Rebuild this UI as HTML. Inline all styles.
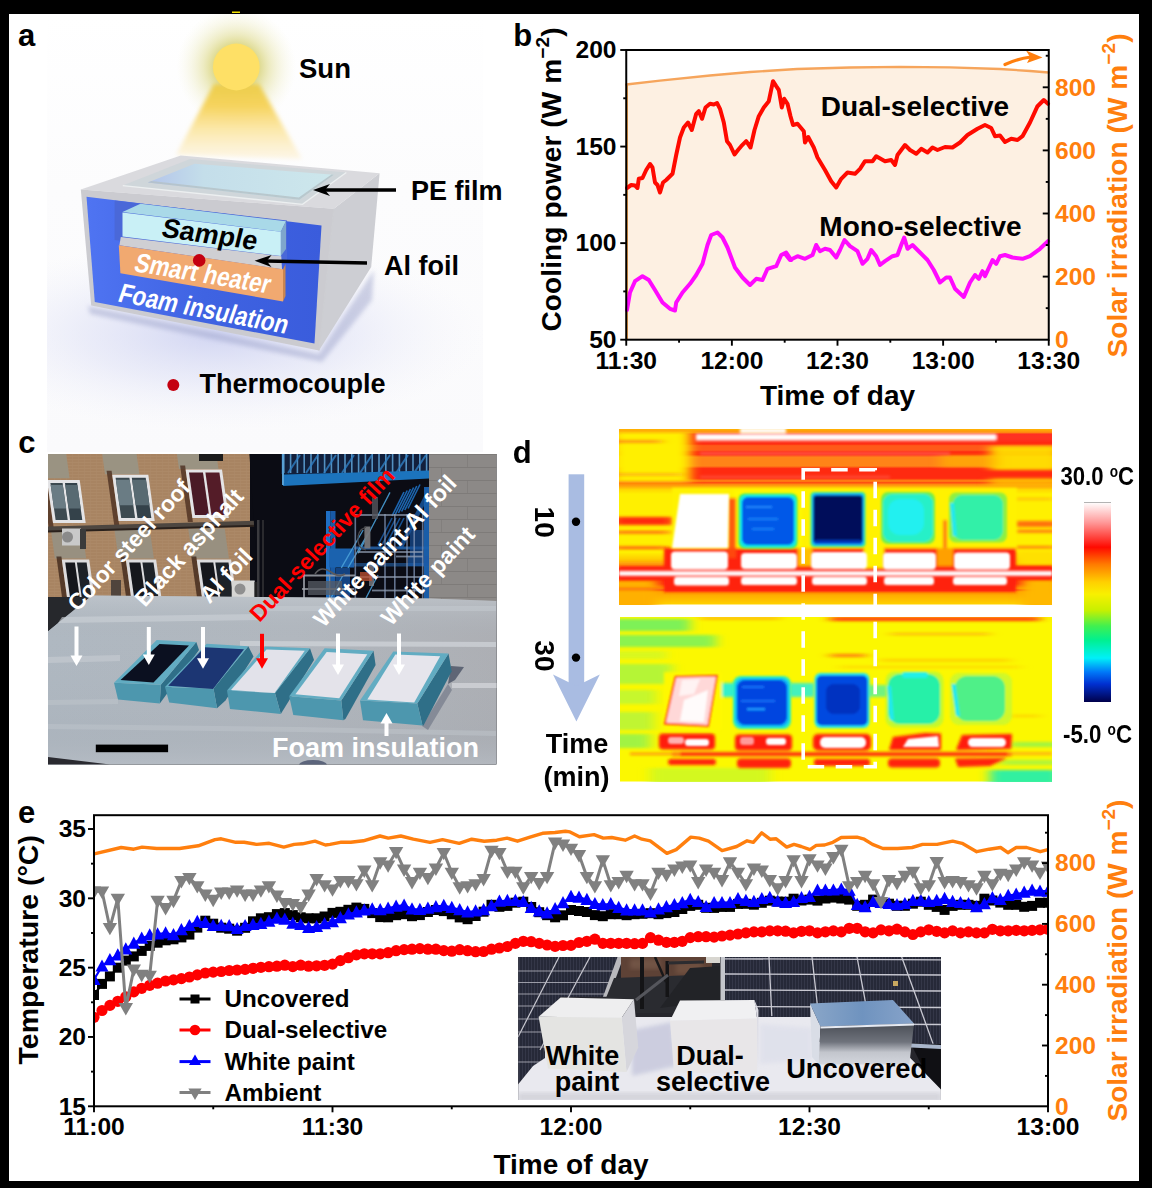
<!DOCTYPE html>
<html><head><meta charset="utf-8"><title>figure</title><style>html,body{margin:0;padding:0;background:#000;overflow:hidden}svg{display:block}text{font-family:"Liberation Sans",sans-serif;font-weight:bold}</style></head><body>
<svg width="1152" height="1188" viewBox="0 0 1152 1188">
<rect x="0" y="0" width="1152" height="1188" fill="#000"/>
<rect x="9" y="14" width="1130" height="1167" fill="#fff"/>
<rect x="232" y="11.5" width="8" height="1.5" fill="#f5e400"/>
<g id="pa">
<defs><linearGradient id="abg" x1="0" y1="0" x2="0" y2="1"><stop offset="0" stop-color="#fff"/><stop offset="0.4" stop-color="#fcfcfd"/><stop offset="1" stop-color="#fafafc"/></linearGradient><clipPath id="aclip"><rect x="47" y="14" width="436" height="438"/></clipPath><radialGradient id="sunglow" cx="0.5" cy="0.5" r="0.5"><stop offset="0.38" stop-color="#dcd88a" stop-opacity="0.95"/><stop offset="0.55" stop-color="#e6e3a8" stop-opacity="0.7"/><stop offset="0.78" stop-color="#efedc8" stop-opacity="0.35"/><stop offset="1" stop-color="#f6f5e2" stop-opacity="0"/></radialGradient><linearGradient id="beam" x1="0" y1="0" x2="0" y2="1"><stop offset="0" stop-color="#eccd4c" stop-opacity="1"/><stop offset="0.3" stop-color="#f6d258" stop-opacity="0.95"/><stop offset="0.6" stop-color="#fbe08c" stop-opacity="0.75"/><stop offset="1" stop-color="#fdf0d0" stop-opacity="0.5"/></linearGradient><linearGradient id="blueg" x1="0" y1="0" x2="1" y2="0"><stop offset="0" stop-color="#4f74f2"/><stop offset="0.5" stop-color="#3f63e2"/><stop offset="1" stop-color="#3a5cdc"/></linearGradient><linearGradient id="filmg" x1="0" y1="0" x2="1" y2="0"><stop offset="0" stop-color="#b3c4ea"/><stop offset="0.3" stop-color="#c4deea"/><stop offset="1" stop-color="#cde7ec"/></linearGradient><radialGradient id="floorg" cx="0.5" cy="0.5" r="0.5"><stop offset="0" stop-color="#c4c9ef" stop-opacity="0.75"/><stop offset="0.5" stop-color="#dcdff5" stop-opacity="0.5"/><stop offset="1" stop-color="#f0f1fa" stop-opacity="0"/></radialGradient><filter id="bl2" x="-20%" y="-20%" width="140%" height="140%"><feGaussianBlur stdDeviation="2"/></filter><filter id="bl1" x="-20%" y="-20%" width="140%" height="140%"><feGaussianBlur stdDeviation="0.7"/></filter><filter id="bl4" x="-30%" y="-30%" width="160%" height="160%"><feGaussianBlur stdDeviation="5"/></filter></defs>
<rect x="47" y="14" width="436" height="438" fill="url(#abg)" />
<g clip-path="url(#aclip)"><ellipse cx="215" cy="335" rx="270" ry="95" fill="url(#floorg)"/></g>
<g clip-path="url(#aclip)"><circle cx="236.3" cy="67" r="60" fill="url(#sunglow)"/></g>
<polygon points="214.0,84.0 259.0,84.0 302.0,159.0 176.0,155.0" fill="url(#beam)" filter="url(#bl2)"/>
<circle cx="236.3" cy="67" r="23.4" fill="#fee066"/>
<polygon points="88.0,306.0 319.0,354.0 374.0,270.0 372.0,300.0 322.0,362.0 90.0,314.0" fill="#9aa0c8" opacity="0.45" filter="url(#bl2)"/>
<polygon points="333.8,208.8 379.6,173.3 371.2,267.0 319.0,350.4" fill="#cdced3" />
<polygon points="80.8,189.6 180.8,155.6 379.6,173.3 333.8,208.8" fill="#dadade" />
<polygon points="80.8,189.6 333.8,208.8 319.0,350.4 91.2,305.6" fill="#cbcbd0" />
<line x1="333.75" y1="208.75" x2="319" y2="350.4" stroke="#cccdd1" stroke-width="1.2" />
<polygon points="86.5,196.8 321.5,225.5 314.5,343.5 94.8,302.0" fill="url(#blueg)" />
<polygon points="114.6,200.4 287.0,220.5 287.0,262.0 114.6,240.0" fill="#4a68d8" />
<polygon points="122.5,212.0 140.5,203.7 286.0,221.3 280.8,231.7" fill="#a9d9e8" />
<polygon points="280.8,231.7 286.0,221.3 286.0,249.0 280.8,256.0" fill="#7fa6cc" />
<polygon points="122.5,212.5 280.8,231.7 280.8,256.0 122.5,236.5" fill="#c9f0f6" />
<polygon points="120.8,236.9 281.3,256.3 282.0,269.3 119.4,245.2" fill="#cfcfd3" />
<polygon points="118.8,245.2 283.0,269.2 283.0,301.5 120.4,273.3" fill="#f1a970" />
<polygon points="283.0,269.2 285.5,264.0 285.5,296.0 283.0,301.5" fill="#c98550" />
<polygon points="122.8,185.6 190.0,159.0 346.3,172.5 302.5,204.4" fill="#cdd5d9" opacity="0.93"/>
<polygon points="147.8,182.5 194.7,163.8 333.8,174.7 299.4,199.7" fill="url(#filmg)" />
<polygon points="147.8,182.5 299.4,199.7 333.8,174.7 331.5,174.5 298.8,197.6 151.5,181.0" fill="#b4c0c6" opacity="0.8"/>
<polyline points="122.8,185.6 302.5,204.4 346.3,172.5" fill="none" stroke="#eceff0" stroke-width="1.4"/>
<g transform="translate(210,234.5) rotate(8) skewX(-6)"><text x="0" y="9" font-size="27" fill="#000" text-anchor="middle" font-weight="bold" >Sample</text></g>
<g transform="translate(203,273.5) rotate(9.5) skewX(-8) scale(0.83,1)"><text x="0" y="9" font-size="27" fill="#fff" text-anchor="middle" font-weight="bold" >Smart heater</text></g>
<g transform="translate(204,309) rotate(11) skewX(-8) scale(0.83,1)"><text x="0" y="9" font-size="27" fill="#fff" text-anchor="middle" font-weight="bold" >Foam insulation</text></g>
<circle cx="199.2" cy="260.4" r="6.3" fill="#c40010"/>
<circle cx="173.3" cy="385" r="6" fill="#c40010"/>
<line x1="396" y1="190" x2="324" y2="190" stroke="#000" stroke-width="3.6" /><polygon points="313.0,190.0 330.0,184.0 325.0,190.0 330.0,196.0" fill="#000" />
<line x1="367" y1="263" x2="265.598" y2="261.015" stroke="#000" stroke-width="3.6" /><polygon points="254.6,260.8 271.7,255.1 266.6,261.0 271.5,267.1" fill="#000" />
<text x="299" y="78" font-size="27.5" fill="#000" text-anchor="start" font-weight="bold" >Sun</text>
<text x="411" y="200.4" font-size="27" fill="#000" text-anchor="start" font-weight="bold" >PE film</text>
<text x="384" y="275.4" font-size="27" fill="#000" text-anchor="start" font-weight="bold" >Al foil</text>
<text x="199.5" y="393" font-size="27" fill="#000" text-anchor="start" font-weight="bold" >Thermocouple</text>
<text x="18" y="45.6" font-size="31" fill="#000" text-anchor="start" font-weight="bold" >a</text>
</g>
<g id="pb">
<polygon points="626.3,84.5 660.0,80.6 710.0,75.5 750.0,72.0 797.0,69.0 850.0,67.5 900.0,66.8 950.0,67.3 1000.0,69.0 1030.0,71.0 1048.7,72.5 1048.7,339.7 626.3,339.7" fill="#fdf0e2" />
<line x1="626.8" y1="84.5" x2="626.8" y2="339.7" stroke="#f39a3a" stroke-width="2.2" />
<polyline points="626.3,84.5 660.0,80.6 710.0,75.5 750.0,72.0 797.0,69.0 850.0,67.5 900.0,66.8 950.0,67.3 1000.0,69.0 1030.0,71.0 1048.7,72.5" fill="none" stroke="#f6a55c" stroke-width="2.3" stroke-linejoin="round" stroke-linecap="round" />
<polyline points="627.0,188.0 631.2,185.0 635.0,185.5 637.5,188.0 638.8,178.8 642.5,178.0 646.2,170.0 650.0,164.0 652.5,167.5 655.0,182.5 657.5,185.0 660.0,192.5 663.0,182.5 666.2,180.0 672.5,173.8 676.2,155.0 680.0,137.5 683.8,127.5 688.0,122.5 691.8,130.0 696.2,113.8 698.8,111.2 702.0,118.8 705.5,107.5 710.0,103.8 713.8,104.5 717.0,103.0 720.0,108.8 723.8,122.5 727.0,141.2 730.0,145.0 734.5,154.5 738.0,150.0 741.2,146.2 746.2,141.2 750.5,147.5 754.5,130.0 758.8,116.2 763.8,107.5 768.8,101.2 773.0,81.2 776.2,86.2 778.8,90.0 781.8,107.5 784.2,98.8 787.5,103.8 790.5,116.2 793.0,125.0 797.5,123.8 803.8,131.2 805.0,142.5 808.2,137.0 813.8,147.5 817.5,157.5 825.0,170.0 831.2,181.2 836.2,187.5 841.2,178.8 847.5,172.5 855.0,173.8 860.0,168.8 865.0,161.2 872.5,161.2 876.2,156.2 885.0,161.2 891.2,160.0 895.0,165.0 897.5,155.0 905.0,145.0 910.0,150.0 916.2,153.8 921.2,148.8 927.5,152.5 932.5,147.5 937.5,150.0 945.0,147.0 952.5,147.5 960.0,142.5 967.5,135.0 977.5,128.8 985.0,125.0 991.2,128.0 995.0,136.2 1000.0,135.5 1005.0,142.0 1011.2,138.8 1017.5,140.0 1022.5,136.2 1030.0,122.5 1037.5,106.2 1043.8,100.0 1048.0,103.8" fill="none" stroke="#ff0a00" stroke-width="4" stroke-linejoin="round" stroke-linecap="round" />
<polyline points="627.0,310.0 630.0,292.5 635.0,281.2 642.5,276.2 648.8,280.0 655.0,290.0 662.5,302.5 670.0,308.8 675.0,310.5 676.2,302.5 682.5,292.5 690.0,283.8 696.2,275.0 702.5,263.8 707.5,245.0 711.2,235.0 717.5,232.5 722.5,237.5 727.5,247.5 735.0,267.5 742.5,277.5 750.0,285.0 756.2,278.8 762.5,280.0 767.5,268.8 776.2,266.2 781.2,255.0 786.2,252.5 791.2,260.0 785.0,253.8 790.0,260.0 797.5,256.2 805.0,258.8 812.5,255.0 816.2,245.0 820.0,251.2 825.0,248.8 830.0,250.0 836.2,257.5 840.0,250.0 844.5,240.0 850.0,246.2 857.5,251.2 862.5,263.8 867.5,258.8 871.2,250.0 876.2,256.2 880.0,265.0 885.0,261.2 892.5,256.2 897.5,255.0 901.2,245.0 904.2,237.5 907.5,248.8 912.5,245.0 920.0,252.5 927.5,260.0 933.8,270.0 940.0,282.5 946.2,277.5 950.0,277.5 955.0,288.8 963.8,297.0 970.0,282.5 975.0,275.0 978.8,278.8 982.5,271.2 985.0,276.2 992.5,260.0 996.2,263.8 1000.0,256.2 1005.0,255.0 1012.5,257.5 1022.5,258.8 1030.0,256.2 1040.0,248.8 1048.0,241.2" fill="none" stroke="#ff0aff" stroke-width="4" stroke-linejoin="round" stroke-linecap="round" />
<path d="M1005,64.5 Q1018,58.5 1031,57" fill="none" stroke="#FF7F0E" stroke-width="3.2" stroke-linecap="round"/>
<polygon points="1042.5,57.5 1026.0,50.5 1030.0,57.0 1027.0,63.0" fill="#FF7F0E" />
<rect x="626.25" y="50" width="422.5" height="289.7" fill="none" stroke="#000" stroke-width="2"/>
<line x1="620.25" y1="50" x2="626.25" y2="50" stroke="#000" stroke-width="1.9" />
<text x="616.5" y="58.3" font-size="24.6" fill="#000" text-anchor="end" font-weight="bold" >200</text>
<line x1="623.25" y1="98.2833" x2="626.25" y2="98.2833" stroke="#000" stroke-width="1.9" />
<line x1="620.25" y1="146.567" x2="626.25" y2="146.567" stroke="#000" stroke-width="1.9" />
<text x="616.5" y="154.867" font-size="24.6" fill="#000" text-anchor="end" font-weight="bold" >150</text>
<line x1="623.25" y1="194.85" x2="626.25" y2="194.85" stroke="#000" stroke-width="1.9" />
<line x1="620.25" y1="243.133" x2="626.25" y2="243.133" stroke="#000" stroke-width="1.9" />
<text x="616.5" y="251.433" font-size="24.6" fill="#000" text-anchor="end" font-weight="bold" >100</text>
<line x1="623.25" y1="291.417" x2="626.25" y2="291.417" stroke="#000" stroke-width="1.9" />
<line x1="620.25" y1="339.7" x2="626.25" y2="339.7" stroke="#000" stroke-width="1.9" />
<text x="616.5" y="348" font-size="24.6" fill="#000" text-anchor="end" font-weight="bold" >50</text>
<line x1="626.25" y1="339.7" x2="626.25" y2="345.7" stroke="#000" stroke-width="1.9" />
<text x="626.25" y="368.6" font-size="24.6" fill="#000" text-anchor="middle" font-weight="bold" >11:30</text>
<line x1="679.062" y1="339.7" x2="679.062" y2="342.7" stroke="#000" stroke-width="1.9" />
<line x1="731.875" y1="339.7" x2="731.875" y2="345.7" stroke="#000" stroke-width="1.9" />
<text x="731.875" y="368.6" font-size="24.6" fill="#000" text-anchor="middle" font-weight="bold" >12:00</text>
<line x1="784.688" y1="339.7" x2="784.688" y2="342.7" stroke="#000" stroke-width="1.9" />
<line x1="837.5" y1="339.7" x2="837.5" y2="345.7" stroke="#000" stroke-width="1.9" />
<text x="837.5" y="368.6" font-size="24.6" fill="#000" text-anchor="middle" font-weight="bold" >12:30</text>
<line x1="890.312" y1="339.7" x2="890.312" y2="342.7" stroke="#000" stroke-width="1.9" />
<line x1="943.125" y1="339.7" x2="943.125" y2="345.7" stroke="#000" stroke-width="1.9" />
<text x="943.125" y="368.6" font-size="24.6" fill="#000" text-anchor="middle" font-weight="bold" >13:00</text>
<line x1="995.938" y1="339.7" x2="995.938" y2="342.7" stroke="#000" stroke-width="1.9" />
<line x1="1048.75" y1="339.7" x2="1048.75" y2="345.7" stroke="#000" stroke-width="1.9" />
<text x="1048.75" y="368.6" font-size="24.6" fill="#000" text-anchor="middle" font-weight="bold" >13:30</text>
<text x="1055" y="348" font-size="24.6" fill="#FF7F0E" text-anchor="start" font-weight="bold" >0</text>
<line x1="1045.75" y1="308.15" x2="1048.75" y2="308.15" stroke="#000" stroke-width="1.9" />
<line x1="1042.75" y1="276.6" x2="1048.75" y2="276.6" stroke="#000" stroke-width="1.9" />
<text x="1055" y="284.9" font-size="24.6" fill="#FF7F0E" text-anchor="start" font-weight="bold" >200</text>
<line x1="1045.75" y1="245.05" x2="1048.75" y2="245.05" stroke="#000" stroke-width="1.9" />
<line x1="1042.75" y1="213.5" x2="1048.75" y2="213.5" stroke="#000" stroke-width="1.9" />
<text x="1055" y="221.8" font-size="24.6" fill="#FF7F0E" text-anchor="start" font-weight="bold" >400</text>
<line x1="1045.75" y1="181.95" x2="1048.75" y2="181.95" stroke="#000" stroke-width="1.9" />
<line x1="1042.75" y1="150.4" x2="1048.75" y2="150.4" stroke="#000" stroke-width="1.9" />
<text x="1055" y="158.7" font-size="24.6" fill="#FF7F0E" text-anchor="start" font-weight="bold" >600</text>
<line x1="1045.75" y1="118.85" x2="1048.75" y2="118.85" stroke="#000" stroke-width="1.9" />
<line x1="1042.75" y1="87.3" x2="1048.75" y2="87.3" stroke="#000" stroke-width="1.9" />
<text x="1055" y="95.6" font-size="24.6" fill="#FF7F0E" text-anchor="start" font-weight="bold" >800</text>
<line x1="1045.75" y1="55.75" x2="1048.75" y2="55.75" stroke="#000" stroke-width="1.9" />
<text x="915" y="116.3" font-size="28" fill="#000" text-anchor="middle" font-weight="bold" >Dual-selective</text>
<text x="920.5" y="236.3" font-size="28" fill="#000" text-anchor="middle" font-weight="bold" >Mono-selective</text>
<text x="837.5" y="405" font-size="28" fill="#000" text-anchor="middle" font-weight="bold" >Time of day</text>
<text transform="translate(560.5,331.5) rotate(-90)" font-size="28" font-weight="bold" textLength="304" lengthAdjust="spacing">Cooling power (W m<tspan dy="-12" font-size="19">−2</tspan><tspan dy="12">)</tspan></text>
<text transform="translate(1126.8,357.5) rotate(-90)" font-size="28" font-weight="bold" fill="#FF7F0E" textLength="324" lengthAdjust="spacing">Solar irradiation (W m<tspan dy="-12" font-size="19">−2</tspan><tspan dy="12">)</tspan></text>
<text x="513.2" y="45.8" font-size="31" fill="#000" text-anchor="start" font-weight="bold" >b</text>
</g>
<g id="pc">
<defs><clipPath id="cclip"><rect x="48" y="454" width="448.5" height="310.5"/></clipPath><linearGradient id="roofg" x1="0" y1="0" x2="1" y2="0"><stop offset="0" stop-color="#afb8c1"/><stop offset="0.55" stop-color="#b1b7be"/><stop offset="1" stop-color="#adafb4"/></linearGradient><linearGradient id="roofv" x1="0" y1="0" x2="0" y2="1"><stop offset="0" stop-color="#c2c8ce" stop-opacity="0.7"/><stop offset="0.25" stop-color="#aab1b9" stop-opacity="0"/><stop offset="0.8" stop-color="#a0a7b0" stop-opacity="0.2"/><stop offset="1" stop-color="#b8bec6" stop-opacity="0.6"/></linearGradient><pattern id="brick" width="6" height="3" patternUnits="userSpaceOnUse"><rect width="6" height="3" fill="#a88463"/><rect width="6" height="0.6" fill="#b69474"/><rect x="0" width="0.6" height="3" fill="#b08e6e"/></pattern></defs>
<g clip-path="url(#cclip)">
<rect x="48" y="454" width="449" height="311" fill="#0b0c14" />
<rect x="48" y="454" width="202" height="146" fill="url(#brick)" />
<rect x="48" y="454" width="202" height="146" fill="#a78362" opacity="0.5"/>
<polygon points="41.2,454.0 66.2,454.0 69.6,478.3 44.6,478.3" fill="#9a9382" />
<polygon points="102.2,454.0 136.6,454.0 139.4,474.2 105.0,474.2" fill="#9a9382" />
<polygon points="176.9,454.0 216.4,454.0 218.5,469.0 179.0,469.0" fill="#9a9382" />
<polygon points="50.7,528.5 82.0,528.5 86.2,558.5 54.9,558.5" fill="#989080" />
<polygon points="114.4,529.5 149.8,529.5 153.9,558.5 118.5,558.5" fill="#989080" />
<polygon points="188.2,528.5 224.7,528.5 228.9,558.5 192.4,558.5" fill="#989080" />
<polygon points="41.4,476.0 46.4,476.0 53.6,527.0 48.6,527.0" fill="#4c3020" opacity="0.8"/>
<polygon points="47.0,480.0 79.7,480.0 85.7,523.0 53.0,523.0" fill="#e4e4e6" />
<polygon points="50.4,483.0 62.6,483.0 67.7,520.0 55.6,520.0" fill="#3d4a50" />
<polygon points="65.0,483.0 77.1,483.0 82.3,520.0 70.1,520.0" fill="#34424a" />
<polygon points="50.7,485.0 62.8,485.0 66.2,508.6 54.0,508.6" fill="#6a7c84" />
<polygon points="65.2,485.0 77.4,485.0 80.7,508.6 68.6,508.6" fill="#586a72" />
<polygon points="106.6,470.8 111.6,470.8 119.2,525.0 114.2,525.0" fill="#4c3020" opacity="0.8"/>
<polygon points="112.2,474.8 148.3,474.8 154.7,521.0 118.6,521.0" fill="#e4e4e6" />
<polygon points="115.6,477.8 129.4,477.8 135.1,518.0 121.2,518.0" fill="#3d4a50" />
<polygon points="131.8,477.8 145.7,477.8 151.3,518.0 137.5,518.0" fill="#34424a" />
<polygon points="115.9,479.8 129.7,479.8 133.3,505.2 119.4,505.2" fill="#6a7c84" />
<polygon points="132.1,479.8 146.0,479.8 149.5,505.2 135.7,505.2" fill="#586a72" />
<polygon points="180.1,465.6 185.1,465.6 192.9,522.0 187.9,522.0" fill="#4c3020" opacity="0.8"/>
<polygon points="185.6,469.6 222.0,469.6 228.8,518.0 192.4,518.0" fill="#e4e4e6" />
<polygon points="189.0,472.6 203.0,472.6 209.0,515.0 195.0,515.0" fill="#4a1a26" />
<polygon points="205.4,472.6 219.4,472.6 225.4,515.0 211.4,515.0" fill="#541c28" />
<polygon points="56.4,556.6 61.4,556.6 67.8,603.0 62.8,603.0" fill="#40281c" opacity="0.8"/>
<polygon points="61.8,559.6 89.2,559.6 94.8,600.0 67.4,600.0" fill="#dcdcde" />
<polygon points="65.2,562.6 74.9,562.6 80.5,603.0 70.8,603.0" fill="#15171c" />
<polygon points="76.9,562.6 86.6,562.6 92.2,603.0 82.5,603.0" fill="#1d2228" />
<polygon points="120.4,556.6 125.4,556.6 131.6,601.0 126.6,601.0" fill="#40281c" opacity="0.8"/>
<polygon points="125.8,559.6 156.1,559.6 161.5,598.0 131.2,598.0" fill="#dcdcde" />
<polygon points="129.2,562.6 140.4,562.6 145.8,601.0 134.6,601.0" fill="#15171c" />
<polygon points="142.4,562.6 153.5,562.6 158.9,601.0 147.8,601.0" fill="#1d2228" />
<polygon points="191.3,556.6 196.3,556.6 202.5,601.0 197.5,601.0" fill="#40281c" opacity="0.8"/>
<polygon points="196.7,559.6 231.1,559.6 236.5,598.0 202.1,598.0" fill="#dcdcde" />
<polygon points="200.1,562.6 213.3,562.6 218.7,601.0 205.5,601.0" fill="#15171c" />
<polygon points="215.3,562.6 228.5,562.6 233.9,601.0 220.7,601.0" fill="#1d2228" />
<rect x="199" y="454" width="24" height="7" fill="#1c1c1c" />
<polygon points="48.0,526.5 262.0,520.5 262.0,525.5 48.0,531.5" fill="#4d4640" />
<polygon points="48.0,530.5 262.0,524.5 262.0,526.5 48.0,532.5" fill="#2a211c" />
<rect x="62" y="528.5" width="19" height="17" fill="#c9c9c9" />
<circle cx="67.5" cy="537" r="5.5" fill="#8a8a8a"/>
<rect x="80" y="529" width="6" height="20" fill="#3a3a3a" />
<rect x="231.7" y="580.5" width="23" height="17" fill="#d6d6d4" />
<circle cx="240" cy="589" r="5.5" fill="#8f8f8f"/>
<rect x="254.5" y="582" width="6" height="16" fill="#222" />
<rect x="111" y="580" width="10" height="18" fill="#50443c" />
<polygon points="249.4,454.0 266.0,454.0 266.0,600.0 259.0,600.0" fill="#0b0c14" />
<rect x="257" y="520" width="2.5" height="80" fill="#3a3a3e" />
<rect x="262" y="520" width="2" height="80" fill="#2a2a2e" />
<rect x="281" y="454" width="148" height="20" fill="#12203c" />
<rect x="283" y="454" width="1.6" height="19" fill="#5fa4d8" opacity="0.85"/>
<rect x="289.8" y="454" width="1.6" height="19" fill="#5fa4d8" opacity="0.85"/>
<rect x="296.6" y="454" width="1.6" height="19" fill="#5fa4d8" opacity="0.85"/>
<rect x="303.4" y="454" width="1.6" height="19" fill="#5fa4d8" opacity="0.85"/>
<rect x="310.2" y="454" width="1.6" height="19" fill="#5fa4d8" opacity="0.85"/>
<rect x="317" y="454" width="1.6" height="19" fill="#5fa4d8" opacity="0.85"/>
<rect x="323.8" y="454" width="1.6" height="19" fill="#5fa4d8" opacity="0.85"/>
<rect x="330.6" y="454" width="1.6" height="19" fill="#5fa4d8" opacity="0.85"/>
<rect x="337.4" y="454" width="1.6" height="19" fill="#5fa4d8" opacity="0.85"/>
<rect x="344.2" y="454" width="1.6" height="19" fill="#5fa4d8" opacity="0.85"/>
<rect x="351" y="454" width="1.6" height="19" fill="#5fa4d8" opacity="0.85"/>
<rect x="357.8" y="454" width="1.6" height="19" fill="#5fa4d8" opacity="0.85"/>
<rect x="364.6" y="454" width="1.6" height="19" fill="#5fa4d8" opacity="0.85"/>
<rect x="371.4" y="454" width="1.6" height="19" fill="#5fa4d8" opacity="0.85"/>
<rect x="378.2" y="454" width="1.6" height="19" fill="#5fa4d8" opacity="0.85"/>
<rect x="385" y="454" width="1.6" height="19" fill="#5fa4d8" opacity="0.85"/>
<rect x="391.8" y="454" width="1.6" height="19" fill="#5fa4d8" opacity="0.85"/>
<rect x="398.6" y="454" width="1.6" height="19" fill="#5fa4d8" opacity="0.85"/>
<rect x="405.4" y="454" width="1.6" height="19" fill="#5fa4d8" opacity="0.85"/>
<rect x="412.2" y="454" width="1.6" height="19" fill="#5fa4d8" opacity="0.85"/>
<rect x="419" y="454" width="1.6" height="19" fill="#5fa4d8" opacity="0.85"/>
<rect x="425.8" y="454" width="1.6" height="19" fill="#5fa4d8" opacity="0.85"/>
<line x1="288" y1="473" x2="300" y2="455" stroke="#2f7fc4" stroke-width="2" opacity="0.8"/>
<line x1="306" y1="473" x2="318" y2="455" stroke="#2f7fc4" stroke-width="2" opacity="0.8"/>
<line x1="324" y1="473" x2="336" y2="455" stroke="#2f7fc4" stroke-width="2" opacity="0.8"/>
<line x1="342" y1="473" x2="354" y2="455" stroke="#2f7fc4" stroke-width="2" opacity="0.8"/>
<line x1="360" y1="473" x2="372" y2="455" stroke="#2f7fc4" stroke-width="2" opacity="0.8"/>
<line x1="378" y1="473" x2="390" y2="455" stroke="#2f7fc4" stroke-width="2" opacity="0.8"/>
<line x1="396" y1="473" x2="408" y2="455" stroke="#2f7fc4" stroke-width="2" opacity="0.8"/>
<line x1="414" y1="473" x2="426" y2="455" stroke="#2f7fc4" stroke-width="2" opacity="0.8"/>
<polygon points="282.5,474.5 429.0,470.5 429.0,478.5 283.0,486.0" fill="#1c74bd" />
<rect x="282" y="454" width="2" height="31" fill="#58a0d4" />
<rect x="326" y="511" width="4.5" height="88" fill="#1f6fc4" />
<rect x="330.5" y="511" width="5" height="88" fill="#185aa6" />
<rect x="329" y="548.5" width="25" height="19" fill="#1b62ae" />
<rect x="336" y="568" width="14" height="30" fill="#164e94" opacity="0.85"/>
<rect x="354" y="546.5" width="75" height="3" fill="#2464aa" opacity="0.85"/>
<rect x="353" y="563" width="76" height="3.5" fill="#2464aa" opacity="0.6"/>
<line x1="341.3" y1="567.8" x2="363.2" y2="530" stroke="#4aa0d8" stroke-width="1.3" opacity="0.9"/>
<line x1="348" y1="567.8" x2="368" y2="533.7" stroke="#4aa0d8" stroke-width="1.3" opacity="0.9"/>
<line x1="358.3" y1="553.2" x2="390" y2="492.4" stroke="#4aa0d8" stroke-width="1.3" opacity="0.9"/>
<line x1="331" y1="598" x2="343" y2="575" stroke="#4aa0d8" stroke-width="1.3" opacity="0.9"/>
<line x1="366" y1="598" x2="378" y2="575" stroke="#4aa0d8" stroke-width="1.3" opacity="0.9"/>
<line x1="392" y1="516" x2="404" y2="492" stroke="#1f6fc0" stroke-width="1.6" opacity="0.9"/>
<line x1="395.2" y1="514.5" x2="407.2" y2="490.5" stroke="#1f6fc0" stroke-width="1.6" opacity="0.9"/>
<line x1="398.4" y1="513" x2="410.4" y2="489" stroke="#1f6fc0" stroke-width="1.6" opacity="0.9"/>
<line x1="401.6" y1="511.5" x2="413.6" y2="487.5" stroke="#1f6fc0" stroke-width="1.6" opacity="0.9"/>
<line x1="404.8" y1="510" x2="416.8" y2="486" stroke="#1f6fc0" stroke-width="1.6" opacity="0.9"/>
<line x1="408" y1="508.5" x2="420" y2="484.5" stroke="#1f6fc0" stroke-width="1.6" opacity="0.9"/>
<line x1="378" y1="545" x2="392" y2="518" stroke="#1c62b0" stroke-width="1.6" opacity="0.8"/>
<line x1="382" y1="545" x2="396" y2="518" stroke="#1c62b0" stroke-width="1.6" opacity="0.8"/>
<line x1="386" y1="545" x2="400" y2="518" stroke="#1c62b0" stroke-width="1.6" opacity="0.8"/>
<line x1="390" y1="545" x2="404" y2="518" stroke="#1c62b0" stroke-width="1.6" opacity="0.8"/>
<polygon points="398.0,548.0 403.0,548.0 429.0,496.0 424.0,496.0" fill="#1a5caa" opacity="0.75"/>
<rect x="424" y="487" width="5.5" height="112" fill="#1a62b0" opacity="0.95"/>
<rect x="410" y="530" width="14" height="26" fill="#174f96" opacity="0.7"/>
<rect x="408" y="556" width="21" height="10" fill="#1b5aa6" opacity="0.7"/>
<rect x="354.5" y="514" width="1.6" height="85" fill="#7f93b4" opacity="0.75"/>
<rect x="384.2" y="514" width="1.6" height="85" fill="#7f93b4" opacity="0.75"/>
<rect x="394" y="514" width="1.6" height="85" fill="#7f93b4" opacity="0.75"/>
<rect x="406.2" y="514" width="1.6" height="85" fill="#7f93b4" opacity="0.75"/>
<rect x="413.4" y="514" width="1.6" height="85" fill="#7f93b4" opacity="0.75"/>
<rect x="421.9" y="514" width="1.6" height="85" fill="#7f93b4" opacity="0.75"/>
<rect x="355" y="514.1" width="59" height="1.8" fill="#93a0b6" opacity="0.75"/>
<rect x="358" y="551.1" width="65" height="1.8" fill="#93a0b6" opacity="0.75"/>
<rect x="396" y="555.6" width="27" height="1.8" fill="#93a0b6" opacity="0.75"/>
<rect x="355" y="576.1" width="70" height="1.8" fill="#93a0b6" opacity="0.75"/>
<rect x="372" y="589.6" width="53" height="1.8" fill="#93a0b6" opacity="0.75"/>
<rect x="303" y="574.5" width="52" height="2" fill="#a0a4ac" opacity="0.85"/>
<rect x="302" y="588" width="52" height="2" fill="#8c9098" opacity="0.85"/>
<rect x="303" y="574.5" width="2" height="24" fill="#a0a4ac" opacity="0.8"/>
<rect x="329" y="574.5" width="1.5" height="24" fill="#9096a0" opacity="0.7"/>
<rect x="308" y="581" width="34" height="14" fill="#585c64" opacity="0.75"/>
<path d="M315,574 q6,-9 16,-2 q8,6 14,2" fill="none" stroke="#5a5a5e" stroke-width="1.6"/>
<rect x="364.4" y="526.5" width="6" height="22" fill="#77777a" opacity="0.95"/>
<path d="M366,527 q-9,3 -8,14 q1,8 8,9" fill="none" stroke="#4a4a4e" stroke-width="1.2"/>
<rect x="369" y="564" width="5" height="22" fill="#8c8c90" opacity="0.7"/>
<rect x="360" y="572" width="12" height="9" fill="#c05030" opacity="0.75"/>
<rect x="372" y="497" width="6" height="22" fill="#55565c" opacity="0.8"/>
<rect x="429" y="454" width="68" height="148" fill="#8c8987" />
<rect x="429" y="454" width="68" height="1" fill="#7b7876" opacity="0.8"/>
<rect x="467" y="454" width="1" height="13" fill="#7e7b79" opacity="0.7"/>
<rect x="429" y="467" width="68" height="1" fill="#7b7876" opacity="0.8"/>
<rect x="441" y="467" width="1" height="13" fill="#7e7b79" opacity="0.7"/>
<rect x="429" y="480" width="68" height="1" fill="#7b7876" opacity="0.8"/>
<rect x="467" y="480" width="1" height="13" fill="#7e7b79" opacity="0.7"/>
<rect x="429" y="493" width="68" height="1" fill="#7b7876" opacity="0.8"/>
<rect x="441" y="493" width="1" height="13" fill="#7e7b79" opacity="0.7"/>
<rect x="429" y="506" width="68" height="1" fill="#7b7876" opacity="0.8"/>
<rect x="467" y="506" width="1" height="13" fill="#7e7b79" opacity="0.7"/>
<rect x="429" y="519" width="68" height="1" fill="#7b7876" opacity="0.8"/>
<rect x="441" y="519" width="1" height="13" fill="#7e7b79" opacity="0.7"/>
<rect x="429" y="532" width="68" height="1" fill="#7b7876" opacity="0.8"/>
<rect x="467" y="532" width="1" height="13" fill="#7e7b79" opacity="0.7"/>
<rect x="429" y="545" width="68" height="1" fill="#7b7876" opacity="0.8"/>
<rect x="441" y="545" width="1" height="13" fill="#7e7b79" opacity="0.7"/>
<rect x="429" y="558" width="68" height="1" fill="#7b7876" opacity="0.8"/>
<rect x="467" y="558" width="1" height="13" fill="#7e7b79" opacity="0.7"/>
<rect x="429" y="571" width="68" height="1" fill="#7b7876" opacity="0.8"/>
<rect x="441" y="571" width="1" height="13" fill="#7e7b79" opacity="0.7"/>
<rect x="429" y="584" width="68" height="1" fill="#7b7876" opacity="0.8"/>
<rect x="467" y="584" width="1" height="13" fill="#7e7b79" opacity="0.7"/>
<rect x="429" y="597" width="68" height="1" fill="#7b7876" opacity="0.8"/>
<rect x="441" y="597" width="1" height="13" fill="#7e7b79" opacity="0.7"/>
<polygon points="48.0,631.0 90.0,595.5 262.0,597.0 430.0,598.5 496.5,601.0 496.5,764.5 48.0,764.5" fill="url(#roofg)" />
<polygon points="48.0,631.0 90.0,595.5 262.0,597.0 430.0,598.5 496.5,601.0 496.5,764.5 48.0,764.5" fill="url(#roofv)" />
<polygon points="48.0,597.0 90.0,597.0 48.0,631.0" fill="#26282c" />
<polygon points="48.0,757.0 110.0,764.5 48.0,764.5" fill="#2a2a30" />
<polygon points="62.0,617.0 262.0,614.0 262.0,620.0 58.0,623.0" fill="#cdd2d8" opacity="0.6" filter="url(#bl1)"/>
<polygon points="262.0,606.0 496.0,606.0 496.0,611.0 262.0,611.0" fill="#c6cbd1" opacity="0.5" filter="url(#bl1)"/>
<polygon points="240.0,641.0 496.0,642.0 496.0,647.0 240.0,646.0" fill="#cfd3d8" opacity="0.75" filter="url(#bl1)"/>
<polygon points="48.0,657.0 120.0,655.0 120.0,661.0 48.0,663.0" fill="#c8cdd3" opacity="0.6" filter="url(#bl1)"/>
<polygon points="48.0,700.0 118.0,699.0 118.0,704.0 48.0,705.0" fill="#c2c8ce" opacity="0.45" filter="url(#bl1)"/>
<rect x="452" y="683" width="45" height="5" fill="#cfd2d6" opacity="0.85" filter="url(#bl1)"/>
<polygon points="48.0,724.0 300.0,727.0 496.0,731.0 496.0,736.0 300.0,732.0 48.0,729.0" fill="#bfc5cc" opacity="0.5" filter="url(#bl1)"/>
<polygon points="451.0,666.0 464.0,667.0 455.0,680.0 448.0,684.0" fill="#50586a" opacity="0.85"/>
<polygon points="422.0,726.0 448.0,684.0 452.0,690.0 428.0,730.0" fill="#6a7282" opacity="0.6"/>
<polygon points="196.3,642.0 199.0,650.0 159.8,703.5 160.8,684.8" fill="#2f6f88" />
<polygon points="114.0,682.7 160.8,684.8 159.8,703.5 118.0,699.5" fill="#4d97ae" />
<polygon points="156.7,640.0 196.3,642.0 160.8,684.8 114.0,682.7" fill="#62acc2" />
<polygon points="159.5,644.0 189.0,645.5 153.5,682.5 120.5,680.0" fill="#0b1020" />
<polygon points="248.3,646.3 253.5,656.5 225.5,700.5 217.0,708.3 213.5,688.5" fill="#2f6f88" />
<polygon points="165.0,686.9 213.5,688.5 217.0,708.3 169.2,702.5" fill="#4d97ae" />
<polygon points="206.7,643.8 248.3,646.3 213.5,688.5 165.0,686.9" fill="#62acc2" />
<polygon points="204.5,647.3 244.0,649.3 213.0,689.0 168.2,685.8" fill="#1c3673" />
<polygon points="310.0,648.3 314.0,660.0 280.8,714.0 275.0,693.0" fill="#2f6f88" />
<polygon points="227.0,690.5 275.0,693.0 280.8,714.0 230.0,709.0" fill="#4d97ae" />
<polygon points="265.0,646.5 310.0,648.3 275.0,693.0 227.0,690.5" fill="#62acc2" />
<polygon points="266.5,649.5 304.8,650.8 274.6,693.1 231.0,690.0" fill="#e2e2ea" />
<polygon points="373.5,650.8 375.6,665.0 345.4,719.0 343.3,720.2 341.3,700.4" fill="#2f6f88" />
<polygon points="289.2,696.3 341.3,700.4 343.3,720.2 293.3,715.0" fill="#4d97ae" />
<polygon points="324.6,648.3 373.5,650.8 341.3,700.4 289.2,696.3" fill="#62acc2" />
<polygon points="326.7,652.0 367.3,654.2 339.2,698.3 295.4,694.2" fill="#e4e3ea" />
<polygon points="448.5,653.5 451.7,671.3 423.5,725.4 422.5,725.4 417.3,703.5" fill="#2f6f88" />
<polygon points="360.0,700.4 417.3,703.5 422.5,725.4 363.0,720.2" fill="#4d97ae" />
<polygon points="393.3,651.5 448.5,653.5 417.3,703.5 360.0,700.4" fill="#62acc2" />
<polygon points="395.4,654.6 440.2,656.3 414.2,702.5 367.3,699.4" fill="#e6e5ec" />
<ellipse cx="313" cy="765" rx="14" ry="5" fill="#46506a" opacity="0.8"/>
<rect x="95.8" y="744.6" width="72.3" height="7.6" fill="#000" />
</g>
<rect x="74.5" y="626.5" width="4" height="30" fill="#fff" /><polygon points="70.5,655.5 82.5,655.5 76.5,666.0" fill="#fff" />
<rect x="146.8" y="627" width="4" height="28.5" fill="#fff" /><polygon points="142.8,654.5 154.8,654.5 148.8,665.0" fill="#fff" />
<rect x="201" y="627" width="4" height="32.3" fill="#fff" /><polygon points="197.0,658.3 209.0,658.3 203.0,668.8" fill="#fff" />
<rect x="260" y="633.8" width="4" height="25.5" fill="#f00" /><polygon points="256.0,658.3 268.0,658.3 262.0,668.8" fill="#f00" />
<rect x="336" y="633.5" width="4" height="32" fill="#fff" /><polygon points="332.0,664.5 344.0,664.5 338.0,675.0" fill="#fff" />
<rect x="397" y="633.5" width="4" height="32" fill="#fff" /><polygon points="393.0,664.5 405.0,664.5 399.0,675.0" fill="#fff" />
<rect x="384.5" y="722.5" width="4" height="13.5" fill="#fff" /><polygon points="380.5,723.5 392.5,723.5 386.5,713.0" fill="#fff" />
<text x="77.5" y="612.5" font-size="22.8" fill="#fff" text-anchor="start" font-weight="bold" transform="rotate(-47.3 77.5 612.5)" >Color steel roof</text>
<text x="145" y="608" font-size="23.1" fill="#fff" text-anchor="start" font-weight="bold" transform="rotate(-47.9 145 608)" >Black asphalt</text>
<text x="209.5" y="604.5" font-size="23.3" fill="#fff" text-anchor="start" font-weight="bold" transform="rotate(-46.5 209.5 604.5)" >Al foil</text>
<text x="259.5" y="623" font-size="22.8" fill="#f00" text-anchor="start" font-weight="bold" transform="rotate(-47 259.5 623)" >Dual-selective film</text>
<text x="323.5" y="628.5" font-size="23.2" fill="#fff" text-anchor="start" font-weight="bold" transform="rotate(-47 323.5 628.5)" >White paint-Al foil</text>
<text x="391" y="627" font-size="23.2" fill="#fff" text-anchor="start" font-weight="bold" transform="rotate(-47 391 627)" >White paint</text>
<text x="375.5" y="756.7" font-size="27" fill="#fff" text-anchor="middle" font-weight="bold" >Foam insulation</text>
<text x="18.2" y="453.3" font-size="31" fill="#000" text-anchor="start" font-weight="bold" >c</text>
</g>
<g id="pd">
<defs><clipPath id="d1clip"><rect x="619" y="429" width="433" height="175.5"/></clipPath><clipPath id="d2clip"><rect x="620" y="617" width="432" height="164.5"/></clipPath><filter id="tb" x="-10%" y="-10%" width="120%" height="120%"><feGaussianBlur stdDeviation="1.6"/></filter><filter id="tb2" x="-10%" y="-30%" width="120%" height="160%"><feGaussianBlur stdDeviation="6 1.6"/></filter><filter id="tb3" x="-10%" y="-10%" width="120%" height="120%"><feGaussianBlur stdDeviation="0.9"/></filter><linearGradient id="cbar" x1="0" y1="0" x2="0" y2="1"><stop offset="0" stop-color="#ffffff"/><stop offset="0.1" stop-color="#ff9a9a"/><stop offset="0.225" stop-color="#ff0a00"/><stop offset="0.31" stop-color="#ff7a00"/><stop offset="0.4" stop-color="#ffd000"/><stop offset="0.46" stop-color="#f8f000"/><stop offset="0.54" stop-color="#c8f000"/><stop offset="0.62" stop-color="#40f050"/><stop offset="0.69" stop-color="#00f090"/><stop offset="0.78" stop-color="#00f0f8"/><stop offset="0.85" stop-color="#0078f8"/><stop offset="0.91" stop-color="#0030d0"/><stop offset="1" stop-color="#00004a"/></linearGradient><linearGradient id="d1bg" x1="0" y1="0" x2="0" y2="1"><stop offset="0" stop-color="#ffb400"/><stop offset="0.02" stop-color="#ff8a10"/><stop offset="0.03" stop-color="#ff3020"/><stop offset="0.085" stop-color="#ff2a10"/><stop offset="0.095" stop-color="#ff5a18"/><stop offset="0.12" stop-color="#ff5a18"/><stop offset="0.13" stop-color="#ff2a10"/><stop offset="0.145" stop-color="#ff2a10"/><stop offset="0.16" stop-color="#ff8418"/><stop offset="0.21" stop-color="#ff8418"/><stop offset="0.225" stop-color="#ff2a10"/><stop offset="0.28" stop-color="#ff2a10"/><stop offset="0.295" stop-color="#ff8a10"/><stop offset="0.305" stop-color="#ff4a10"/><stop offset="0.315" stop-color="#ff8a10"/><stop offset="0.345" stop-color="#ffd800"/><stop offset="0.37" stop-color="#fff000"/><stop offset="0.7" stop-color="#fff000"/><stop offset="0.77" stop-color="#ffb000"/><stop offset="0.795" stop-color="#ff2a10"/><stop offset="0.88" stop-color="#ff2a10"/><stop offset="0.905" stop-color="#ff9000"/><stop offset="0.915" stop-color="#ff4a10"/><stop offset="0.925" stop-color="#ffa000"/><stop offset="1" stop-color="#ffd400"/></linearGradient></defs>
<g clip-path="url(#d1clip)">
<rect x="619" y="429" width="433" height="176" fill="url(#d1bg)" />
<g filter="url(#tb2)"><rect x="612" y="432" width="78" height="52" fill="#fff000" /><rect x="612" y="440" width="50" height="3" fill="#ff6a10" opacity="0.8"/><rect x="612" y="473" width="70" height="3" fill="#ff9a10" opacity="0.7"/><rect x="612" y="481" width="80" height="2.5" fill="#ff5a10" opacity="0.8"/><rect x="990" y="446" width="70" height="24" fill="#ffe400" opacity="0.9"/><rect x="940" y="455" width="60" height="12" fill="#ffb800" opacity="0.6"/><rect x="990" y="478" width="70" height="8" fill="#ffc000" opacity="0.8"/><rect x="612" y="517" width="62" height="8" fill="#ff2a10" /><rect x="612" y="531" width="58" height="2.5" fill="#ff5a10" /><rect x="612" y="546.5" width="56" height="2.5" fill="#ff4a10" /><rect x="612" y="562" width="60" height="6" fill="#ff9a10" opacity="0.8"/><rect x="1010" y="521" width="50" height="6" fill="#ff5a10" opacity="0.85"/><rect x="1012" y="530" width="50" height="2.5" fill="#ff4a10" opacity="0.85"/><rect x="1008" y="546" width="50" height="2.5" fill="#ff5a10" opacity="0.8"/><rect x="1005" y="498" width="50" height="2" fill="#ffa010" opacity="0.7"/><rect x="605" y="580" width="52" height="30" fill="#ffb000" /><rect x="1022" y="579" width="40" height="30" fill="#ffb800" /><rect x="605" y="588" width="60" height="2" fill="#ff3a10" /><rect x="1015" y="551" width="45" height="14" fill="#ffe000" /></g>
<g filter="url(#tb)"><rect x="696" y="434" width="300" height="6.5" fill="#fff" /><rect x="740" y="428" width="46" height="5" fill="#fff" /><rect x="996" y="435" width="60" height="5" fill="#ff3020" /><rect x="700" y="452.5" width="250" height="2" fill="#ff8080" opacity="0.7"/><rect x="700" y="476" width="190" height="2" fill="#ff7060" opacity="0.6"/><rect x="672" y="488" width="345" height="62" fill="#fff200" /><rect x="734" y="490" width="68" height="62" fill="#fff800" /><rect x="664" y="548" width="352" height="44" fill="#ff2010" /><rect x="619" y="566" width="433" height="14" fill="#ff2010" /><rect x="728" y="498" width="8" height="60" fill="#ff4a10" opacity="0.9"/><rect x="943" y="520" width="4" height="40" fill="#ff6a10" opacity="0.9"/><rect x="864" y="548" width="20" height="20" fill="#fff200" /><rect x="798" y="548" width="14" height="18" fill="#ffc000" /><rect x="937" y="548" width="16" height="18" fill="#ffa000" /></g>
<g filter="url(#tb3)"><polygon points="680.0,494.0 729.0,494.0 728.0,548.0 672.0,548.0" fill="#fff" /><rect x="671" y="551.5" width="57" height="18" fill="#fff" rx="4"/><rect x="674" y="577" width="55" height="8.5" fill="#fff" rx="3"/><rect x="738.5" y="493.5" width="59" height="55" fill="#30f070" rx="6"/><rect x="740" y="495" width="56" height="52" fill="#10e8f0" rx="6"/><rect x="742" y="497" width="52" height="48" fill="#0058e8" rx="6"/><rect x="746" y="506" width="26" height="2" fill="#2090ff" opacity="0.8"/><rect x="748" y="518" width="30" height="2" fill="#2090ff" opacity="0.7"/><rect x="752" y="528" width="22" height="2" fill="#2090ff" opacity="0.7"/><rect x="741" y="553" width="56" height="16" fill="#fff" rx="4"/><rect x="741" y="577" width="56" height="8" fill="#fff" rx="3"/><rect x="810.5" y="492" width="55" height="55" fill="#30f0a0" rx="4"/><rect x="812" y="493.5" width="52" height="52" fill="#10a0ff" rx="4"/><rect x="813.5" y="495.5" width="49" height="47.5" fill="#000a5a" rx="3"/><rect x="815" y="540" width="46" height="4" fill="#0040d0" opacity="0.8"/><rect x="811" y="552" width="56" height="17" fill="#fff" rx="4"/><rect x="812" y="577" width="55" height="8" fill="#fff" rx="3"/><rect x="881" y="492" width="54" height="52" fill="#70f050" rx="7"/><rect x="883" y="494" width="50" height="48" fill="#28f0c8" rx="9"/><rect x="888" y="499" width="36" height="36" fill="#20f0f0" rx="12"/><rect x="883" y="552.5" width="53" height="17" fill="#fff" rx="4"/><rect x="884" y="577" width="50" height="8" fill="#fff" rx="3"/><rect x="949" y="492.5" width="58" height="50" fill="#90f040" rx="7"/><rect x="953" y="495" width="50" height="45" fill="#30f0a8" rx="9"/><polygon points="950.0,503.0 954.0,503.0 957.0,536.0 953.0,536.0" fill="#20e8f0" /><rect x="954" y="552.5" width="56" height="17" fill="#fff" rx="4"/><rect x="953" y="577" width="54" height="8" fill="#fff" rx="3"/><rect x="619" y="571.3" width="433" height="4.2" fill="#fff" /><rect x="619" y="570.3" width="433" height="1.2" fill="#ff9090" /><rect x="619" y="575.3" width="433" height="1.2" fill="#ff9090" /></g>
</g>
<g clip-path="url(#d2clip)">
<rect x="620" y="617" width="432" height="165" fill="#fcf800" />
<g filter="url(#tb2)"><rect x="606" y="619" width="84" height="12" fill="#70f060" opacity="0.9"/><rect x="606" y="635" width="110" height="12" fill="#80f258" opacity="0.9"/><rect x="606" y="651" width="60" height="8" fill="#d0f828" opacity="0.8"/><rect x="606" y="664" width="66" height="20" fill="#a8f440" opacity="0.85"/><rect x="606" y="690" width="50" height="14" fill="#b8f638" opacity="0.8"/><rect x="606" y="712" width="48" height="18" fill="#b0f440" opacity="0.8"/><rect x="606" y="734" width="44" height="14" fill="#90f250" opacity="0.85"/><rect x="650" y="768" width="120" height="18" fill="#c8f828" opacity="0.8"/><rect x="990" y="770" width="70" height="14" fill="#30f0a0" /><rect x="1010" y="742" width="50" height="5" fill="#a0f440" /><rect x="1000" y="760" width="60" height="5" fill="#b0f438" /><rect x="830" y="617" width="210" height="4" fill="#ff3a10" /><rect x="700" y="617" width="80" height="2.5" fill="#ff9a10" opacity="0.8"/><rect x="890" y="633" width="100" height="2" fill="#ff9a10" opacity="0.8"/><rect x="830" y="654" width="36" height="3" fill="#ff6a10" opacity="0.9"/><rect x="880" y="659" width="130" height="2.5" fill="#ffc800" opacity="0.9"/><rect x="840" y="666" width="180" height="2" fill="#ffd000" opacity="0.9"/><rect x="1010" y="715" width="30" height="2" fill="#ffc000" opacity="0.8"/></g>
<g filter="url(#tb)"><rect x="722" y="683" width="14" height="14" fill="#20f0e0" opacity="0.9"/><rect x="790" y="683" width="24" height="14" fill="#30f0d0" opacity="0.9"/><rect x="868" y="685" width="20" height="12" fill="#50f0a0" opacity="0.8"/><rect x="664" y="672" width="58" height="58" fill="#fff800" /><rect x="659" y="733.5" width="56" height="16" fill="#ff1a10" rx="4"/><rect x="735" y="734.5" width="57" height="16" fill="#ff1a10" rx="4"/><rect x="813" y="734" width="58" height="16.5" fill="#ff1a10" rx="5"/><polygon points="889.0,750.0 893.0,737.0 925.0,733.0 941.0,733.5 941.0,750.0" fill="#ff1a10" /><polygon points="956.0,750.0 962.0,735.0 1012.0,734.0 1011.0,749.0" fill="#ff1a10" /><rect x="672" y="752.3" width="340" height="3.6" fill="#ff1a10" /><rect x="630" y="752.8" width="50" height="2.2" fill="#ff8a10" /><rect x="1008" y="752.5" width="44" height="2.2" fill="#ff9a10" /><rect x="668" y="759" width="48" height="6" fill="#ff2010" rx="3"/><rect x="737" y="758.5" width="54" height="9.5" fill="#ff2010" rx="4"/><rect x="814" y="759" width="56" height="7" fill="#ff2010" rx="3"/><rect x="888" y="758.5" width="52" height="9" fill="#ff2010" rx="4"/><polygon points="955.0,758.5 1007.0,758.0 990.0,766.0 958.0,767.0" fill="#ff2010" /></g>
<g filter="url(#tb3)"><polygon points="674.9,675.9 717.8,674.9 708.8,726.8 663.9,724.4" fill="#ff2a20" /><polygon points="676.3,677.6 716.0,676.7 707.5,725.0 666.0,722.8" fill="#ffd8d8" /><polygon points="684.0,700.0 708.0,690.0 704.0,722.0 680.0,721.0" fill="#fff" opacity="0.9"/><polygon points="682.0,680.0 700.0,679.0 694.0,694.0 679.0,696.0" fill="#fff" opacity="0.7"/><rect x="685" y="739" width="24" height="7" fill="#fff" rx="3"/><rect x="668" y="737" width="16" height="7" fill="#ffb0b0" rx="3"/><rect x="733" y="676" width="58" height="53" fill="#28f0c0" rx="8"/><rect x="735" y="678" width="54" height="49" fill="#10b8f8" rx="8"/><rect x="737" y="680" width="50" height="45" fill="#0044e0" rx="8"/><rect x="742" y="686" width="22" height="2" fill="#1a80ff" opacity="0.8"/><rect x="741" y="700" width="34" height="2" fill="#1a80ff" opacity="0.7"/><rect x="747" y="708" width="18" height="2.5" fill="#20a0ff" opacity="0.9"/><rect x="766" y="738" width="20" height="7" fill="#fff" rx="3"/><rect x="740" y="737" width="14" height="8" fill="#ff9a9a" rx="3"/><rect x="814.5" y="673" width="55" height="55" fill="#20e8f0" rx="6"/><rect x="816.5" y="675.5" width="51" height="50" fill="#0048e0" rx="5"/><rect x="826" y="684" width="34" height="30" fill="#0030c0" rx="8"/><rect x="820" y="737" width="46" height="11" fill="#fff" rx="5"/><rect x="885.5" y="671.5" width="58" height="56" fill="#b8f838" rx="9" opacity="0.8"/><rect x="888" y="674" width="52" height="50" fill="#28f0a8" rx="12"/><rect x="902" y="672" width="26" height="6" fill="#20f0e8" rx="3"/><polygon points="887.0,686.0 891.0,686.0 894.0,720.0 890.0,720.0" fill="#20e8f0" /><polygon points="903.0,747.0 908.0,739.0 938.0,736.0 939.0,747.0" fill="#fff" /><rect x="950" y="673" width="62" height="52" fill="#c4f834" rx="9" opacity="0.8"/><rect x="955" y="676" width="50" height="45" fill="#50f088" rx="12"/><polygon points="951.5,684.0 955.5,684.0 960.0,716.0 956.0,716.0" fill="#20e8f0" /><rect x="968" y="738" width="38" height="9" fill="#fff" rx="4.5"/></g>
</g>
<path d="M803.2,469.8 H875.2 V766.8 H803.2 Z" stroke="#fff" stroke-width="3.6" fill="none" stroke-dasharray="16.5 11.5"/>
<rect x="1084" y="502.3" width="27" height="199.7" fill="url(#cbar)" />
<rect x="1084" y="502" width="27" height="0.8" fill="#a0a0a0" />
<text x="1060.5" y="485" font-size="26" textLength="73.5" lengthAdjust="spacingAndGlyphs">30.0 <tspan font-size="16" dy="-8">o</tspan><tspan dy="8">C</tspan></text>
<text x="1063" y="743" font-size="26" textLength="69" lengthAdjust="spacingAndGlyphs">-5.0 <tspan font-size="16" dy="-8">o</tspan><tspan dy="8">C</tspan></text>
<rect x="568.6" y="474.3" width="15.6" height="213" fill="#a9bce2" />
<polygon points="553.0,674.5 576.4,686.0 599.8,674.5 576.4,721.5" fill="#a9bce2" />
<circle cx="576" cy="521.7" r="4.2" fill="#000"/>
<circle cx="576" cy="657.6" r="4.2" fill="#000"/>
<text x="535" y="522.2" font-size="28" fill="#000" text-anchor="middle" font-weight="bold" transform="rotate(90 535 522.2)" >10</text>
<text x="535" y="655.9" font-size="28" fill="#000" text-anchor="middle" font-weight="bold" transform="rotate(90 535 655.9)" >30</text>
<text x="577" y="752.6" font-size="27" fill="#000" text-anchor="middle" font-weight="bold" >Time</text>
<text x="576.5" y="785.5" font-size="27" fill="#000" text-anchor="middle" font-weight="bold" >(min)</text>
<text x="512.8" y="462.5" font-size="31" fill="#000" text-anchor="start" font-weight="bold" >d</text>
</g>
<g id="pe">
<defs><clipPath id="eclip"><rect x="93.5" y="815.2" width="955" height="291.1"/></clipPath></defs>
<g clip-path="url(#eclip)">
<polyline points="94.0,995.0 102.0,983.9 109.9,976.4 117.8,967.7 125.8,960.6 133.8,956.4 141.7,950.9 149.7,945.9 157.6,942.7 165.6,940.3 173.5,939.3 181.4,937.4 189.4,934.6 197.3,927.6 205.3,920.7 213.2,923.7 221.2,927.7 229.2,928.7 237.1,930.7 245.1,927.8 253.0,921.3 260.9,918.3 268.9,917.2 276.9,914.1 284.8,913.1 292.8,915.1 300.7,917.3 308.6,918.3 316.6,918.3 324.6,916.5 332.5,912.9 340.4,911.8 348.4,909.8 356.4,907.6 364.3,908.9 372.2,913.1 380.2,917.1 388.1,917.3 396.1,915.2 404.1,914.2 412.0,916.2 419.9,915.1 427.9,912.0 435.9,910.0 443.8,911.1 451.8,914.3 459.7,917.4 467.6,919.2 475.6,916.0 483.6,911.7 491.5,904.8 499.4,906.8 507.4,905.9 515.4,902.7 523.3,901.7 531.2,907.0 539.2,912.2 547.1,915.2 555.1,917.3 563.0,915.3 571.0,910.0 579.0,911.0 586.9,912.0 594.9,915.1 602.8,916.2 610.8,914.2 618.7,914.2 626.6,915.2 634.6,914.2 642.5,913.8 650.5,913.2 658.5,914.2 666.4,913.1 674.4,912.0 682.3,909.0 690.2,905.9 698.2,904.8 706.1,907.8 714.1,907.9 722.0,906.9 730.0,906.9 738.0,903.9 745.9,903.8 753.9,904.7 761.8,902.8 769.8,900.7 777.7,901.6 785.6,901.7 793.6,898.7 801.5,900.5 809.5,899.6 817.5,900.6 825.4,898.5 833.4,897.6 841.3,898.5 849.2,899.6 857.2,905.8 865.1,904.8 873.1,899.6 881.0,902.6 889.0,903.7 897.0,905.8 904.9,905.8 912.9,903.7 920.8,901.7 928.8,904.8 936.7,906.9 944.6,909.9 952.6,905.9 960.5,904.8 968.5,904.8 976.5,905.8 984.4,898.7 992.4,900.5 1000.3,902.6 1008.2,904.8 1016.2,904.8 1024.2,906.8 1032.1,905.9 1040.0,902.8 1048.0,902.7" fill="none" stroke="#000" stroke-width="2.2" stroke-linejoin="round" stroke-linecap="round" />
<g fill="#000"><rect x="89.0" y="990.0" width="10" height="10"/><rect x="97.0" y="978.9" width="10" height="10"/><rect x="104.9" y="971.4" width="10" height="10"/><rect x="112.8" y="962.7" width="10" height="10"/><rect x="120.8" y="955.6" width="10" height="10"/><rect x="128.8" y="951.4" width="10" height="10"/><rect x="136.7" y="945.9" width="10" height="10"/><rect x="144.7" y="940.9" width="10" height="10"/><rect x="152.6" y="937.7" width="10" height="10"/><rect x="160.6" y="935.3" width="10" height="10"/><rect x="168.5" y="934.3" width="10" height="10"/><rect x="176.4" y="932.4" width="10" height="10"/><rect x="184.4" y="929.6" width="10" height="10"/><rect x="192.3" y="922.6" width="10" height="10"/><rect x="200.3" y="915.7" width="10" height="10"/><rect x="208.2" y="918.7" width="10" height="10"/><rect x="216.2" y="922.7" width="10" height="10"/><rect x="224.2" y="923.7" width="10" height="10"/><rect x="232.1" y="925.7" width="10" height="10"/><rect x="240.1" y="922.8" width="10" height="10"/><rect x="248.0" y="916.3" width="10" height="10"/><rect x="255.9" y="913.3" width="10" height="10"/><rect x="263.9" y="912.2" width="10" height="10"/><rect x="271.9" y="909.1" width="10" height="10"/><rect x="279.8" y="908.1" width="10" height="10"/><rect x="287.8" y="910.1" width="10" height="10"/><rect x="295.7" y="912.3" width="10" height="10"/><rect x="303.6" y="913.3" width="10" height="10"/><rect x="311.6" y="913.3" width="10" height="10"/><rect x="319.6" y="911.5" width="10" height="10"/><rect x="327.5" y="907.9" width="10" height="10"/><rect x="335.4" y="906.8" width="10" height="10"/><rect x="343.4" y="904.8" width="10" height="10"/><rect x="351.4" y="902.6" width="10" height="10"/><rect x="359.3" y="903.9" width="10" height="10"/><rect x="367.2" y="908.1" width="10" height="10"/><rect x="375.2" y="912.1" width="10" height="10"/><rect x="383.1" y="912.3" width="10" height="10"/><rect x="391.1" y="910.2" width="10" height="10"/><rect x="399.1" y="909.2" width="10" height="10"/><rect x="407.0" y="911.2" width="10" height="10"/><rect x="414.9" y="910.1" width="10" height="10"/><rect x="422.9" y="907.0" width="10" height="10"/><rect x="430.9" y="905.0" width="10" height="10"/><rect x="438.8" y="906.1" width="10" height="10"/><rect x="446.8" y="909.3" width="10" height="10"/><rect x="454.7" y="912.4" width="10" height="10"/><rect x="462.6" y="914.2" width="10" height="10"/><rect x="470.6" y="911.0" width="10" height="10"/><rect x="478.6" y="906.7" width="10" height="10"/><rect x="486.5" y="899.8" width="10" height="10"/><rect x="494.4" y="901.8" width="10" height="10"/><rect x="502.4" y="900.9" width="10" height="10"/><rect x="510.4" y="897.7" width="10" height="10"/><rect x="518.3" y="896.7" width="10" height="10"/><rect x="526.2" y="902.0" width="10" height="10"/><rect x="534.2" y="907.2" width="10" height="10"/><rect x="542.1" y="910.2" width="10" height="10"/><rect x="550.1" y="912.3" width="10" height="10"/><rect x="558.0" y="910.3" width="10" height="10"/><rect x="566.0" y="905.0" width="10" height="10"/><rect x="574.0" y="906.0" width="10" height="10"/><rect x="581.9" y="907.0" width="10" height="10"/><rect x="589.9" y="910.1" width="10" height="10"/><rect x="597.8" y="911.2" width="10" height="10"/><rect x="605.8" y="909.2" width="10" height="10"/><rect x="613.7" y="909.2" width="10" height="10"/><rect x="621.6" y="910.2" width="10" height="10"/><rect x="629.6" y="909.2" width="10" height="10"/><rect x="637.5" y="908.8" width="10" height="10"/><rect x="645.5" y="908.2" width="10" height="10"/><rect x="653.5" y="909.2" width="10" height="10"/><rect x="661.4" y="908.1" width="10" height="10"/><rect x="669.4" y="907.0" width="10" height="10"/><rect x="677.3" y="904.0" width="10" height="10"/><rect x="685.2" y="900.9" width="10" height="10"/><rect x="693.2" y="899.8" width="10" height="10"/><rect x="701.1" y="902.8" width="10" height="10"/><rect x="709.1" y="902.9" width="10" height="10"/><rect x="717.0" y="901.9" width="10" height="10"/><rect x="725.0" y="901.9" width="10" height="10"/><rect x="733.0" y="898.9" width="10" height="10"/><rect x="740.9" y="898.8" width="10" height="10"/><rect x="748.9" y="899.7" width="10" height="10"/><rect x="756.8" y="897.8" width="10" height="10"/><rect x="764.8" y="895.7" width="10" height="10"/><rect x="772.7" y="896.6" width="10" height="10"/><rect x="780.6" y="896.7" width="10" height="10"/><rect x="788.6" y="893.7" width="10" height="10"/><rect x="796.5" y="895.5" width="10" height="10"/><rect x="804.5" y="894.6" width="10" height="10"/><rect x="812.5" y="895.6" width="10" height="10"/><rect x="820.4" y="893.5" width="10" height="10"/><rect x="828.4" y="892.6" width="10" height="10"/><rect x="836.3" y="893.5" width="10" height="10"/><rect x="844.2" y="894.6" width="10" height="10"/><rect x="852.2" y="900.8" width="10" height="10"/><rect x="860.1" y="899.8" width="10" height="10"/><rect x="868.1" y="894.6" width="10" height="10"/><rect x="876.0" y="897.6" width="10" height="10"/><rect x="884.0" y="898.7" width="10" height="10"/><rect x="892.0" y="900.8" width="10" height="10"/><rect x="899.9" y="900.8" width="10" height="10"/><rect x="907.9" y="898.7" width="10" height="10"/><rect x="915.8" y="896.7" width="10" height="10"/><rect x="923.8" y="899.8" width="10" height="10"/><rect x="931.7" y="901.9" width="10" height="10"/><rect x="939.6" y="904.9" width="10" height="10"/><rect x="947.6" y="900.9" width="10" height="10"/><rect x="955.5" y="899.8" width="10" height="10"/><rect x="963.5" y="899.8" width="10" height="10"/><rect x="971.5" y="900.8" width="10" height="10"/><rect x="979.4" y="893.7" width="10" height="10"/><rect x="987.4" y="895.5" width="10" height="10"/><rect x="995.3" y="897.6" width="10" height="10"/><rect x="1003.2" y="899.8" width="10" height="10"/><rect x="1011.2" y="899.8" width="10" height="10"/><rect x="1019.2" y="901.8" width="10" height="10"/><rect x="1027.1" y="900.9" width="10" height="10"/><rect x="1035.0" y="897.8" width="10" height="10"/><rect x="1043.0" y="897.7" width="10" height="10"/></g>
<polyline points="94.0,1017.3 102.0,1010.5 109.9,1005.4 117.8,1001.3 125.8,996.8 133.8,991.9 141.7,988.3 149.7,985.3 157.6,983.2 165.6,981.0 173.5,979.9 181.4,978.6 189.4,977.0 197.3,974.9 205.3,973.0 213.2,972.1 221.2,971.5 229.2,970.5 237.1,970.0 245.1,969.4 253.0,968.3 260.9,967.3 268.9,966.7 276.9,966.2 284.8,965.2 292.8,966.6 300.7,965.2 308.6,966.2 316.6,965.8 324.6,965.3 332.5,964.1 340.4,960.6 348.4,957.7 356.4,954.8 364.3,953.8 372.2,953.8 380.2,953.8 388.1,952.7 396.1,950.7 404.1,949.6 412.0,949.2 419.9,948.6 427.9,949.2 435.9,949.2 443.8,950.6 451.8,951.2 459.7,949.7 467.6,950.7 475.6,951.7 483.6,951.5 491.5,949.2 499.4,948.0 507.4,946.5 515.4,943.4 523.3,941.3 531.2,941.7 539.2,943.4 547.1,945.0 555.1,946.4 563.0,945.5 571.0,945.4 579.0,942.5 586.9,941.3 594.9,939.2 602.8,943.3 610.8,943.3 618.7,943.3 626.6,943.3 634.6,943.7 642.5,943.4 650.5,937.7 658.5,940.2 666.4,942.3 674.4,942.3 682.3,941.3 690.2,937.6 698.2,936.7 706.1,936.7 714.1,937.1 722.0,936.0 730.0,935.1 738.0,934.0 745.9,932.9 753.9,931.9 761.8,931.9 769.8,930.9 777.7,930.8 785.6,931.2 793.6,932.8 801.5,931.3 809.5,930.8 817.5,932.9 825.4,931.8 833.4,930.9 841.3,931.9 849.2,928.3 857.2,928.3 865.1,931.8 873.1,932.9 881.0,929.9 889.0,930.8 897.0,929.2 904.9,931.9 912.9,934.5 920.8,931.9 928.8,929.8 936.7,931.3 944.6,932.9 952.6,930.9 960.5,932.9 968.5,931.9 976.5,932.9 984.4,932.9 992.4,929.3 1000.3,930.8 1008.2,930.8 1016.2,930.4 1024.2,930.8 1032.1,930.4 1040.0,929.8 1048.0,929.2" fill="none" stroke="#f00" stroke-width="2.2" stroke-linejoin="round" stroke-linecap="round" />
<g fill="#f00"><circle cx="94.0" cy="1017.3" r="5.6"/><circle cx="102.0" cy="1010.5" r="5.6"/><circle cx="109.9" cy="1005.4" r="5.6"/><circle cx="117.8" cy="1001.3" r="5.6"/><circle cx="125.8" cy="996.8" r="5.6"/><circle cx="133.8" cy="991.9" r="5.6"/><circle cx="141.7" cy="988.3" r="5.6"/><circle cx="149.7" cy="985.3" r="5.6"/><circle cx="157.6" cy="983.2" r="5.6"/><circle cx="165.6" cy="981.0" r="5.6"/><circle cx="173.5" cy="979.9" r="5.6"/><circle cx="181.4" cy="978.6" r="5.6"/><circle cx="189.4" cy="977.0" r="5.6"/><circle cx="197.3" cy="974.9" r="5.6"/><circle cx="205.3" cy="973.0" r="5.6"/><circle cx="213.2" cy="972.1" r="5.6"/><circle cx="221.2" cy="971.5" r="5.6"/><circle cx="229.2" cy="970.5" r="5.6"/><circle cx="237.1" cy="970.0" r="5.6"/><circle cx="245.1" cy="969.4" r="5.6"/><circle cx="253.0" cy="968.3" r="5.6"/><circle cx="260.9" cy="967.3" r="5.6"/><circle cx="268.9" cy="966.7" r="5.6"/><circle cx="276.9" cy="966.2" r="5.6"/><circle cx="284.8" cy="965.2" r="5.6"/><circle cx="292.8" cy="966.6" r="5.6"/><circle cx="300.7" cy="965.2" r="5.6"/><circle cx="308.6" cy="966.2" r="5.6"/><circle cx="316.6" cy="965.8" r="5.6"/><circle cx="324.6" cy="965.3" r="5.6"/><circle cx="332.5" cy="964.1" r="5.6"/><circle cx="340.4" cy="960.6" r="5.6"/><circle cx="348.4" cy="957.7" r="5.6"/><circle cx="356.4" cy="954.8" r="5.6"/><circle cx="364.3" cy="953.8" r="5.6"/><circle cx="372.2" cy="953.8" r="5.6"/><circle cx="380.2" cy="953.8" r="5.6"/><circle cx="388.1" cy="952.7" r="5.6"/><circle cx="396.1" cy="950.7" r="5.6"/><circle cx="404.1" cy="949.6" r="5.6"/><circle cx="412.0" cy="949.2" r="5.6"/><circle cx="419.9" cy="948.6" r="5.6"/><circle cx="427.9" cy="949.2" r="5.6"/><circle cx="435.9" cy="949.2" r="5.6"/><circle cx="443.8" cy="950.6" r="5.6"/><circle cx="451.8" cy="951.2" r="5.6"/><circle cx="459.7" cy="949.7" r="5.6"/><circle cx="467.6" cy="950.7" r="5.6"/><circle cx="475.6" cy="951.7" r="5.6"/><circle cx="483.6" cy="951.5" r="5.6"/><circle cx="491.5" cy="949.2" r="5.6"/><circle cx="499.4" cy="948.0" r="5.6"/><circle cx="507.4" cy="946.5" r="5.6"/><circle cx="515.4" cy="943.4" r="5.6"/><circle cx="523.3" cy="941.3" r="5.6"/><circle cx="531.2" cy="941.7" r="5.6"/><circle cx="539.2" cy="943.4" r="5.6"/><circle cx="547.1" cy="945.0" r="5.6"/><circle cx="555.1" cy="946.4" r="5.6"/><circle cx="563.0" cy="945.5" r="5.6"/><circle cx="571.0" cy="945.4" r="5.6"/><circle cx="579.0" cy="942.5" r="5.6"/><circle cx="586.9" cy="941.3" r="5.6"/><circle cx="594.9" cy="939.2" r="5.6"/><circle cx="602.8" cy="943.3" r="5.6"/><circle cx="610.8" cy="943.3" r="5.6"/><circle cx="618.7" cy="943.3" r="5.6"/><circle cx="626.6" cy="943.3" r="5.6"/><circle cx="634.6" cy="943.7" r="5.6"/><circle cx="642.5" cy="943.4" r="5.6"/><circle cx="650.5" cy="937.7" r="5.6"/><circle cx="658.5" cy="940.2" r="5.6"/><circle cx="666.4" cy="942.3" r="5.6"/><circle cx="674.4" cy="942.3" r="5.6"/><circle cx="682.3" cy="941.3" r="5.6"/><circle cx="690.2" cy="937.6" r="5.6"/><circle cx="698.2" cy="936.7" r="5.6"/><circle cx="706.1" cy="936.7" r="5.6"/><circle cx="714.1" cy="937.1" r="5.6"/><circle cx="722.0" cy="936.0" r="5.6"/><circle cx="730.0" cy="935.1" r="5.6"/><circle cx="738.0" cy="934.0" r="5.6"/><circle cx="745.9" cy="932.9" r="5.6"/><circle cx="753.9" cy="931.9" r="5.6"/><circle cx="761.8" cy="931.9" r="5.6"/><circle cx="769.8" cy="930.9" r="5.6"/><circle cx="777.7" cy="930.8" r="5.6"/><circle cx="785.6" cy="931.2" r="5.6"/><circle cx="793.6" cy="932.8" r="5.6"/><circle cx="801.5" cy="931.3" r="5.6"/><circle cx="809.5" cy="930.8" r="5.6"/><circle cx="817.5" cy="932.9" r="5.6"/><circle cx="825.4" cy="931.8" r="5.6"/><circle cx="833.4" cy="930.9" r="5.6"/><circle cx="841.3" cy="931.9" r="5.6"/><circle cx="849.2" cy="928.3" r="5.6"/><circle cx="857.2" cy="928.3" r="5.6"/><circle cx="865.1" cy="931.8" r="5.6"/><circle cx="873.1" cy="932.9" r="5.6"/><circle cx="881.0" cy="929.9" r="5.6"/><circle cx="889.0" cy="930.8" r="5.6"/><circle cx="897.0" cy="929.2" r="5.6"/><circle cx="904.9" cy="931.9" r="5.6"/><circle cx="912.9" cy="934.5" r="5.6"/><circle cx="920.8" cy="931.9" r="5.6"/><circle cx="928.8" cy="929.8" r="5.6"/><circle cx="936.7" cy="931.3" r="5.6"/><circle cx="944.6" cy="932.9" r="5.6"/><circle cx="952.6" cy="930.9" r="5.6"/><circle cx="960.5" cy="932.9" r="5.6"/><circle cx="968.5" cy="931.9" r="5.6"/><circle cx="976.5" cy="932.9" r="5.6"/><circle cx="984.4" cy="932.9" r="5.6"/><circle cx="992.4" cy="929.3" r="5.6"/><circle cx="1000.3" cy="930.8" r="5.6"/><circle cx="1008.2" cy="930.8" r="5.6"/><circle cx="1016.2" cy="930.4" r="5.6"/><circle cx="1024.2" cy="930.8" r="5.6"/><circle cx="1032.1" cy="930.4" r="5.6"/><circle cx="1040.0" cy="929.8" r="5.6"/><circle cx="1048.0" cy="929.2" r="5.6"/></g>
<polyline points="94.0,979.5 102.0,966.2 109.9,959.9 117.8,955.0 125.8,949.0 133.8,943.3 141.7,938.4 149.7,935.0 157.6,934.0 165.6,933.1 173.5,934.9 181.4,929.9 189.4,925.7 197.3,921.5 205.3,922.5 213.2,925.6 221.2,925.6 229.2,925.9 237.1,928.7 245.1,925.7 253.0,924.5 260.9,923.5 268.9,921.4 276.9,918.4 284.8,919.4 292.8,923.4 300.7,924.7 308.6,927.7 316.6,926.7 324.6,923.9 332.5,921.8 340.4,917.8 348.4,914.0 356.4,912.0 364.3,910.0 372.2,909.0 380.2,909.9 388.1,908.4 396.1,906.3 404.1,905.2 412.0,909.0 419.9,909.5 427.9,908.3 435.9,906.8 443.8,905.5 451.8,907.6 459.7,909.8 467.6,912.0 475.6,911.0 483.6,909.8 491.5,905.8 499.4,901.4 507.4,900.6 515.4,900.6 523.3,901.7 531.2,907.6 539.2,911.1 547.1,913.1 555.1,908.9 563.0,902.9 571.0,896.5 579.0,897.4 586.9,899.5 594.9,903.7 602.8,904.8 610.8,903.8 618.7,907.5 626.6,910.0 634.6,910.0 642.5,910.0 650.5,912.0 658.5,909.0 666.4,906.9 674.4,904.7 682.3,902.8 690.2,899.6 698.2,901.7 706.1,906.7 714.1,902.9 722.0,902.7 730.0,902.7 738.0,898.7 745.9,900.6 753.9,901.6 761.8,898.7 769.8,897.5 777.7,901.4 785.6,902.7 793.6,901.7 801.5,897.7 809.5,896.5 817.5,890.4 825.4,890.2 833.4,890.2 841.3,889.2 849.2,890.3 857.2,904.6 865.1,906.9 873.1,901.7 881.0,902.7 889.0,903.7 897.0,904.8 904.9,903.7 912.9,900.6 920.8,900.6 928.8,901.7 936.7,900.6 944.6,898.6 952.6,901.6 960.5,902.7 968.5,903.7 976.5,906.8 984.4,903.8 992.4,897.8 1000.3,899.5 1008.2,895.5 1016.2,894.4 1024.2,892.4 1032.1,890.3 1040.0,891.2 1048.0,891.2" fill="none" stroke="#00f" stroke-width="2.2" stroke-linejoin="round" stroke-linecap="round" />
<g fill="#00f"><path d="M94.0,972.7 l6.5,12.2 h-13z"/><path d="M102.0,959.4 l6.5,12.2 h-13z"/><path d="M109.9,953.1 l6.5,12.2 h-13z"/><path d="M117.8,948.2 l6.5,12.2 h-13z"/><path d="M125.8,942.2 l6.5,12.2 h-13z"/><path d="M133.8,936.5 l6.5,12.2 h-13z"/><path d="M141.7,931.6 l6.5,12.2 h-13z"/><path d="M149.7,928.2 l6.5,12.2 h-13z"/><path d="M157.6,927.2 l6.5,12.2 h-13z"/><path d="M165.6,926.3 l6.5,12.2 h-13z"/><path d="M173.5,928.1 l6.5,12.2 h-13z"/><path d="M181.4,923.1 l6.5,12.2 h-13z"/><path d="M189.4,918.9 l6.5,12.2 h-13z"/><path d="M197.3,914.7 l6.5,12.2 h-13z"/><path d="M205.3,915.7 l6.5,12.2 h-13z"/><path d="M213.2,918.8 l6.5,12.2 h-13z"/><path d="M221.2,918.8 l6.5,12.2 h-13z"/><path d="M229.2,919.1 l6.5,12.2 h-13z"/><path d="M237.1,921.9 l6.5,12.2 h-13z"/><path d="M245.1,918.9 l6.5,12.2 h-13z"/><path d="M253.0,917.7 l6.5,12.2 h-13z"/><path d="M260.9,916.7 l6.5,12.2 h-13z"/><path d="M268.9,914.6 l6.5,12.2 h-13z"/><path d="M276.9,911.6 l6.5,12.2 h-13z"/><path d="M284.8,912.6 l6.5,12.2 h-13z"/><path d="M292.8,916.6 l6.5,12.2 h-13z"/><path d="M300.7,917.9 l6.5,12.2 h-13z"/><path d="M308.6,920.9 l6.5,12.2 h-13z"/><path d="M316.6,919.9 l6.5,12.2 h-13z"/><path d="M324.6,917.1 l6.5,12.2 h-13z"/><path d="M332.5,915.0 l6.5,12.2 h-13z"/><path d="M340.4,911.0 l6.5,12.2 h-13z"/><path d="M348.4,907.2 l6.5,12.2 h-13z"/><path d="M356.4,905.2 l6.5,12.2 h-13z"/><path d="M364.3,903.2 l6.5,12.2 h-13z"/><path d="M372.2,902.2 l6.5,12.2 h-13z"/><path d="M380.2,903.1 l6.5,12.2 h-13z"/><path d="M388.1,901.6 l6.5,12.2 h-13z"/><path d="M396.1,899.5 l6.5,12.2 h-13z"/><path d="M404.1,898.5 l6.5,12.2 h-13z"/><path d="M412.0,902.2 l6.5,12.2 h-13z"/><path d="M419.9,902.7 l6.5,12.2 h-13z"/><path d="M427.9,901.5 l6.5,12.2 h-13z"/><path d="M435.9,900.0 l6.5,12.2 h-13z"/><path d="M443.8,898.7 l6.5,12.2 h-13z"/><path d="M451.8,900.8 l6.5,12.2 h-13z"/><path d="M459.7,903.0 l6.5,12.2 h-13z"/><path d="M467.6,905.2 l6.5,12.2 h-13z"/><path d="M475.6,904.2 l6.5,12.2 h-13z"/><path d="M483.6,903.0 l6.5,12.2 h-13z"/><path d="M491.5,899.0 l6.5,12.2 h-13z"/><path d="M499.4,894.6 l6.5,12.2 h-13z"/><path d="M507.4,893.8 l6.5,12.2 h-13z"/><path d="M515.4,893.8 l6.5,12.2 h-13z"/><path d="M523.3,894.9 l6.5,12.2 h-13z"/><path d="M531.2,900.8 l6.5,12.2 h-13z"/><path d="M539.2,904.3 l6.5,12.2 h-13z"/><path d="M547.1,906.3 l6.5,12.2 h-13z"/><path d="M555.1,902.1 l6.5,12.2 h-13z"/><path d="M563.0,896.1 l6.5,12.2 h-13z"/><path d="M571.0,889.7 l6.5,12.2 h-13z"/><path d="M579.0,890.6 l6.5,12.2 h-13z"/><path d="M586.9,892.7 l6.5,12.2 h-13z"/><path d="M594.9,896.9 l6.5,12.2 h-13z"/><path d="M602.8,898.0 l6.5,12.2 h-13z"/><path d="M610.8,897.0 l6.5,12.2 h-13z"/><path d="M618.7,900.7 l6.5,12.2 h-13z"/><path d="M626.6,903.2 l6.5,12.2 h-13z"/><path d="M634.6,903.2 l6.5,12.2 h-13z"/><path d="M642.5,903.2 l6.5,12.2 h-13z"/><path d="M650.5,905.2 l6.5,12.2 h-13z"/><path d="M658.5,902.2 l6.5,12.2 h-13z"/><path d="M666.4,900.1 l6.5,12.2 h-13z"/><path d="M674.4,897.9 l6.5,12.2 h-13z"/><path d="M682.3,896.0 l6.5,12.2 h-13z"/><path d="M690.2,892.8 l6.5,12.2 h-13z"/><path d="M698.2,894.9 l6.5,12.2 h-13z"/><path d="M706.1,899.9 l6.5,12.2 h-13z"/><path d="M714.1,896.1 l6.5,12.2 h-13z"/><path d="M722.0,895.9 l6.5,12.2 h-13z"/><path d="M730.0,895.9 l6.5,12.2 h-13z"/><path d="M738.0,891.9 l6.5,12.2 h-13z"/><path d="M745.9,893.8 l6.5,12.2 h-13z"/><path d="M753.9,894.8 l6.5,12.2 h-13z"/><path d="M761.8,891.9 l6.5,12.2 h-13z"/><path d="M769.8,890.7 l6.5,12.2 h-13z"/><path d="M777.7,894.6 l6.5,12.2 h-13z"/><path d="M785.6,895.9 l6.5,12.2 h-13z"/><path d="M793.6,894.9 l6.5,12.2 h-13z"/><path d="M801.5,890.9 l6.5,12.2 h-13z"/><path d="M809.5,889.7 l6.5,12.2 h-13z"/><path d="M817.5,883.6 l6.5,12.2 h-13z"/><path d="M825.4,883.4 l6.5,12.2 h-13z"/><path d="M833.4,883.4 l6.5,12.2 h-13z"/><path d="M841.3,882.4 l6.5,12.2 h-13z"/><path d="M849.2,883.5 l6.5,12.2 h-13z"/><path d="M857.2,897.8 l6.5,12.2 h-13z"/><path d="M865.1,900.1 l6.5,12.2 h-13z"/><path d="M873.1,894.9 l6.5,12.2 h-13z"/><path d="M881.0,895.9 l6.5,12.2 h-13z"/><path d="M889.0,896.9 l6.5,12.2 h-13z"/><path d="M897.0,898.0 l6.5,12.2 h-13z"/><path d="M904.9,896.9 l6.5,12.2 h-13z"/><path d="M912.9,893.8 l6.5,12.2 h-13z"/><path d="M920.8,893.8 l6.5,12.2 h-13z"/><path d="M928.8,894.9 l6.5,12.2 h-13z"/><path d="M936.7,893.8 l6.5,12.2 h-13z"/><path d="M944.6,891.8 l6.5,12.2 h-13z"/><path d="M952.6,894.8 l6.5,12.2 h-13z"/><path d="M960.5,895.9 l6.5,12.2 h-13z"/><path d="M968.5,896.9 l6.5,12.2 h-13z"/><path d="M976.5,900.0 l6.5,12.2 h-13z"/><path d="M984.4,897.0 l6.5,12.2 h-13z"/><path d="M992.4,891.0 l6.5,12.2 h-13z"/><path d="M1000.3,892.7 l6.5,12.2 h-13z"/><path d="M1008.2,888.7 l6.5,12.2 h-13z"/><path d="M1016.2,887.6 l6.5,12.2 h-13z"/><path d="M1024.2,885.6 l6.5,12.2 h-13z"/><path d="M1032.1,883.5 l6.5,12.2 h-13z"/><path d="M1040.0,884.4 l6.5,12.2 h-13z"/><path d="M1048.0,884.5 l6.5,12.2 h-13z"/></g>
<polyline points="94.0,891.2 102.0,891.2 109.9,927.7 117.8,898.5 125.8,1007.9 133.8,969.4 141.7,974.6 149.7,975.6 157.6,900.6 165.6,907.9 173.5,900.6 181.4,880.8 189.4,877.7 197.3,886.0 205.3,894.4 213.2,899.6 221.2,892.3 229.2,892.3 237.1,890.2 245.1,894.4 253.0,894.4 260.9,890.2 268.9,886.0 276.9,895.4 284.8,902.7 292.8,903.8 300.7,906.9 308.6,894.4 316.6,878.8 324.6,885.0 332.5,889.2 340.4,880.8 348.4,880.8 356.4,884.0 364.3,870.4 372.2,885.0 380.2,862.1 388.1,865.2 396.1,851.7 404.1,869.4 412.0,881.9 419.9,872.5 427.9,877.7 435.9,868.3 443.8,852.7 451.8,872.5 459.7,887.1 467.6,886.0 475.6,884.0 483.6,878.8 491.5,850.6 499.4,852.7 507.4,871.5 515.4,871.5 523.3,887.1 531.2,876.7 539.2,882.9 547.1,876.7 555.1,842.3 563.0,844.4 571.0,848.5 579.0,854.8 586.9,876.7 594.9,886.0 602.8,860.0 610.8,885.0 618.7,881.9 626.6,875.6 634.6,884.0 642.5,884.0 650.5,893.3 658.5,872.5 666.4,874.6 674.4,869.4 682.3,866.2 690.2,865.2 698.2,881.9 706.1,869.4 714.1,872.5 722.0,879.8 730.0,862.1 738.0,872.5 745.9,884.0 753.9,868.3 761.8,870.4 769.8,879.8 777.7,888.1 785.6,880.8 793.6,860.0 801.5,880.8 809.5,859.0 817.5,865.2 825.4,868.3 833.4,856.9 841.3,849.6 849.2,886.0 857.2,881.9 865.1,875.6 873.1,884.0 881.0,901.7 889.0,879.8 897.0,882.9 904.9,875.6 912.9,871.5 920.8,888.1 928.8,885.0 936.7,861.7 944.6,881.9 952.6,880.8 960.5,881.9 968.5,885.0 976.5,888.1 984.4,875.6 992.4,884.0 1000.3,873.5 1008.2,874.6 1016.2,869.4 1024.2,862.1 1032.1,865.2 1040.0,872.5 1048.0,866.2" fill="none" stroke="#808080" stroke-width="3" stroke-linejoin="round" stroke-linecap="round" />
<g fill="#808080"><path d="M94.0,898.9 l-7.2,-12.4 h14.4z"/><path d="M102.0,898.9 l-7.2,-12.4 h14.4z"/><path d="M109.9,935.3 l-7.2,-12.4 h14.4z"/><path d="M117.8,906.1 l-7.2,-12.4 h14.4z"/><path d="M125.8,1015.5 l-7.2,-12.4 h14.4z"/><path d="M133.8,977.0 l-7.2,-12.4 h14.4z"/><path d="M141.7,982.2 l-7.2,-12.4 h14.4z"/><path d="M149.7,983.2 l-7.2,-12.4 h14.4z"/><path d="M157.6,908.2 l-7.2,-12.4 h14.4z"/><path d="M165.6,915.5 l-7.2,-12.4 h14.4z"/><path d="M173.5,908.2 l-7.2,-12.4 h14.4z"/><path d="M181.4,888.4 l-7.2,-12.4 h14.4z"/><path d="M189.4,885.3 l-7.2,-12.4 h14.4z"/><path d="M197.3,893.6 l-7.2,-12.4 h14.4z"/><path d="M205.3,902.0 l-7.2,-12.4 h14.4z"/><path d="M213.2,907.2 l-7.2,-12.4 h14.4z"/><path d="M221.2,899.9 l-7.2,-12.4 h14.4z"/><path d="M229.2,899.9 l-7.2,-12.4 h14.4z"/><path d="M237.1,897.8 l-7.2,-12.4 h14.4z"/><path d="M245.1,902.0 l-7.2,-12.4 h14.4z"/><path d="M253.0,902.0 l-7.2,-12.4 h14.4z"/><path d="M260.9,897.8 l-7.2,-12.4 h14.4z"/><path d="M268.9,893.6 l-7.2,-12.4 h14.4z"/><path d="M276.9,903.0 l-7.2,-12.4 h14.4z"/><path d="M284.8,910.3 l-7.2,-12.4 h14.4z"/><path d="M292.8,911.4 l-7.2,-12.4 h14.4z"/><path d="M300.7,914.5 l-7.2,-12.4 h14.4z"/><path d="M308.6,902.0 l-7.2,-12.4 h14.4z"/><path d="M316.6,886.4 l-7.2,-12.4 h14.4z"/><path d="M324.6,892.6 l-7.2,-12.4 h14.4z"/><path d="M332.5,896.8 l-7.2,-12.4 h14.4z"/><path d="M340.4,888.4 l-7.2,-12.4 h14.4z"/><path d="M348.4,888.4 l-7.2,-12.4 h14.4z"/><path d="M356.4,891.6 l-7.2,-12.4 h14.4z"/><path d="M364.3,878.0 l-7.2,-12.4 h14.4z"/><path d="M372.2,892.6 l-7.2,-12.4 h14.4z"/><path d="M380.2,869.7 l-7.2,-12.4 h14.4z"/><path d="M388.1,872.8 l-7.2,-12.4 h14.4z"/><path d="M396.1,859.3 l-7.2,-12.4 h14.4z"/><path d="M404.1,877.0 l-7.2,-12.4 h14.4z"/><path d="M412.0,889.5 l-7.2,-12.4 h14.4z"/><path d="M419.9,880.1 l-7.2,-12.4 h14.4z"/><path d="M427.9,885.3 l-7.2,-12.4 h14.4z"/><path d="M435.9,875.9 l-7.2,-12.4 h14.4z"/><path d="M443.8,860.3 l-7.2,-12.4 h14.4z"/><path d="M451.8,880.1 l-7.2,-12.4 h14.4z"/><path d="M459.7,894.7 l-7.2,-12.4 h14.4z"/><path d="M467.6,893.6 l-7.2,-12.4 h14.4z"/><path d="M475.6,891.6 l-7.2,-12.4 h14.4z"/><path d="M483.6,886.4 l-7.2,-12.4 h14.4z"/><path d="M491.5,858.2 l-7.2,-12.4 h14.4z"/><path d="M499.4,860.3 l-7.2,-12.4 h14.4z"/><path d="M507.4,879.1 l-7.2,-12.4 h14.4z"/><path d="M515.4,879.1 l-7.2,-12.4 h14.4z"/><path d="M523.3,894.7 l-7.2,-12.4 h14.4z"/><path d="M531.2,884.3 l-7.2,-12.4 h14.4z"/><path d="M539.2,890.5 l-7.2,-12.4 h14.4z"/><path d="M547.1,884.3 l-7.2,-12.4 h14.4z"/><path d="M555.1,849.9 l-7.2,-12.4 h14.4z"/><path d="M563.0,852.0 l-7.2,-12.4 h14.4z"/><path d="M571.0,856.1 l-7.2,-12.4 h14.4z"/><path d="M579.0,862.4 l-7.2,-12.4 h14.4z"/><path d="M586.9,884.3 l-7.2,-12.4 h14.4z"/><path d="M594.9,893.6 l-7.2,-12.4 h14.4z"/><path d="M602.8,867.6 l-7.2,-12.4 h14.4z"/><path d="M610.8,892.6 l-7.2,-12.4 h14.4z"/><path d="M618.7,889.5 l-7.2,-12.4 h14.4z"/><path d="M626.6,883.2 l-7.2,-12.4 h14.4z"/><path d="M634.6,891.6 l-7.2,-12.4 h14.4z"/><path d="M642.5,891.6 l-7.2,-12.4 h14.4z"/><path d="M650.5,900.9 l-7.2,-12.4 h14.4z"/><path d="M658.5,880.1 l-7.2,-12.4 h14.4z"/><path d="M666.4,882.2 l-7.2,-12.4 h14.4z"/><path d="M674.4,877.0 l-7.2,-12.4 h14.4z"/><path d="M682.3,873.9 l-7.2,-12.4 h14.4z"/><path d="M690.2,872.8 l-7.2,-12.4 h14.4z"/><path d="M698.2,889.5 l-7.2,-12.4 h14.4z"/><path d="M706.1,877.0 l-7.2,-12.4 h14.4z"/><path d="M714.1,880.1 l-7.2,-12.4 h14.4z"/><path d="M722.0,887.4 l-7.2,-12.4 h14.4z"/><path d="M730.0,869.7 l-7.2,-12.4 h14.4z"/><path d="M738.0,880.1 l-7.2,-12.4 h14.4z"/><path d="M745.9,891.6 l-7.2,-12.4 h14.4z"/><path d="M753.9,875.9 l-7.2,-12.4 h14.4z"/><path d="M761.8,878.0 l-7.2,-12.4 h14.4z"/><path d="M769.8,887.4 l-7.2,-12.4 h14.4z"/><path d="M777.7,895.7 l-7.2,-12.4 h14.4z"/><path d="M785.6,888.4 l-7.2,-12.4 h14.4z"/><path d="M793.6,867.6 l-7.2,-12.4 h14.4z"/><path d="M801.5,888.4 l-7.2,-12.4 h14.4z"/><path d="M809.5,866.6 l-7.2,-12.4 h14.4z"/><path d="M817.5,872.8 l-7.2,-12.4 h14.4z"/><path d="M825.4,875.9 l-7.2,-12.4 h14.4z"/><path d="M833.4,864.5 l-7.2,-12.4 h14.4z"/><path d="M841.3,857.2 l-7.2,-12.4 h14.4z"/><path d="M849.2,893.6 l-7.2,-12.4 h14.4z"/><path d="M857.2,889.5 l-7.2,-12.4 h14.4z"/><path d="M865.1,883.2 l-7.2,-12.4 h14.4z"/><path d="M873.1,891.6 l-7.2,-12.4 h14.4z"/><path d="M881.0,909.3 l-7.2,-12.4 h14.4z"/><path d="M889.0,887.4 l-7.2,-12.4 h14.4z"/><path d="M897.0,890.5 l-7.2,-12.4 h14.4z"/><path d="M904.9,883.2 l-7.2,-12.4 h14.4z"/><path d="M912.9,879.1 l-7.2,-12.4 h14.4z"/><path d="M920.8,895.7 l-7.2,-12.4 h14.4z"/><path d="M928.8,892.6 l-7.2,-12.4 h14.4z"/><path d="M936.7,869.3 l-7.2,-12.4 h14.4z"/><path d="M944.6,889.5 l-7.2,-12.4 h14.4z"/><path d="M952.6,888.4 l-7.2,-12.4 h14.4z"/><path d="M960.5,889.5 l-7.2,-12.4 h14.4z"/><path d="M968.5,892.6 l-7.2,-12.4 h14.4z"/><path d="M976.5,895.7 l-7.2,-12.4 h14.4z"/><path d="M984.4,883.2 l-7.2,-12.4 h14.4z"/><path d="M992.4,891.6 l-7.2,-12.4 h14.4z"/><path d="M1000.3,881.1 l-7.2,-12.4 h14.4z"/><path d="M1008.2,882.2 l-7.2,-12.4 h14.4z"/><path d="M1016.2,877.0 l-7.2,-12.4 h14.4z"/><path d="M1024.2,869.7 l-7.2,-12.4 h14.4z"/><path d="M1032.1,872.8 l-7.2,-12.4 h14.4z"/><path d="M1040.0,880.1 l-7.2,-12.4 h14.4z"/><path d="M1048.0,873.9 l-7.2,-12.4 h14.4z"/></g>
<polyline points="94.2,853.8 121.2,847.5 133.8,849.2 142.1,847.1 156.7,848.5 179.6,848.5 198.3,845.8 215.0,839.6 221.2,838.8 235.8,842.3 244.2,842.3 256.7,844.4 269.2,843.3 283.8,847.1 294.2,844.4 302.5,843.8 315.0,841.2 325.4,845.0 330.0,844.4 340.4,842.3 350.8,842.3 363.3,840.8 380.0,836.0 388.3,838.1 400.8,836.0 413.3,839.2 430.0,842.3 442.5,839.6 459.2,843.3 471.7,839.2 484.2,841.2 496.7,840.2 507.1,838.1 517.5,841.2 530.0,837.1 542.5,833.3 555.0,832.5 565.4,831.2 570.0,831.9 579.4,836.7 594.0,834.6 603.3,838.1 611.7,837.5 625.2,840.2 634.6,836.0 641.9,839.2 650.2,840.8 666.9,853.3 676.2,849.6 690.8,837.1 699.2,838.1 708.5,841.2 722.1,850.6 736.7,846.5 747.1,840.8 753.3,842.3 761.7,832.9 770.0,839.2 776.2,838.8 786.7,847.1 794.0,844.4 801.2,846.5 810.0,849.6 816.2,845.4 824.6,845.0 832.9,842.3 841.2,837.5 856.9,837.1 864.2,839.2 872.5,844.4 882.9,848.5 897.5,848.5 912.1,847.5 922.5,844.4 937.1,844.4 952.7,841.2 962.1,843.3 976.7,851.7 989.2,849.2 1000.6,847.5 1007.9,852.7 1016.2,847.5 1026.7,847.5 1040.2,851.7 1047.9,849.6" fill="none" stroke="#ff7f0e" stroke-width="3.4" stroke-linejoin="round" stroke-linecap="round" />
</g>
<rect x="94" y="815.2" width="954" height="291.1" fill="none" stroke="#000" stroke-width="2"/>
<line x1="88" y1="829" x2="94" y2="829" stroke="#000" stroke-width="1.9" />
<text x="86" y="837.3" font-size="24.6" fill="#000" text-anchor="end" font-weight="bold" >35</text>
<line x1="88" y1="898.325" x2="94" y2="898.325" stroke="#000" stroke-width="1.9" />
<text x="86" y="906.625" font-size="24.6" fill="#000" text-anchor="end" font-weight="bold" >30</text>
<line x1="91" y1="863.663" x2="94" y2="863.663" stroke="#000" stroke-width="1.9" />
<line x1="88" y1="967.65" x2="94" y2="967.65" stroke="#000" stroke-width="1.9" />
<text x="86" y="975.95" font-size="24.6" fill="#000" text-anchor="end" font-weight="bold" >25</text>
<line x1="91" y1="932.987" x2="94" y2="932.987" stroke="#000" stroke-width="1.9" />
<line x1="88" y1="1036.97" x2="94" y2="1036.97" stroke="#000" stroke-width="1.9" />
<text x="86" y="1045.27" font-size="24.6" fill="#000" text-anchor="end" font-weight="bold" >20</text>
<line x1="91" y1="1002.31" x2="94" y2="1002.31" stroke="#000" stroke-width="1.9" />
<line x1="88" y1="1106.3" x2="94" y2="1106.3" stroke="#000" stroke-width="1.9" />
<text x="86" y="1114.6" font-size="24.6" fill="#000" text-anchor="end" font-weight="bold" >15</text>
<line x1="91" y1="1071.64" x2="94" y2="1071.64" stroke="#000" stroke-width="1.9" />
<line x1="94" y1="1106.3" x2="94" y2="1112.3" stroke="#000" stroke-width="1.9" />
<text x="94" y="1135" font-size="24.6" fill="#000" text-anchor="middle" font-weight="bold" >11:00</text>
<line x1="213.25" y1="1106.3" x2="213.25" y2="1109.3" stroke="#000" stroke-width="1.9" />
<line x1="332.5" y1="1106.3" x2="332.5" y2="1112.3" stroke="#000" stroke-width="1.9" />
<text x="332.5" y="1135" font-size="24.6" fill="#000" text-anchor="middle" font-weight="bold" >11:30</text>
<line x1="451.75" y1="1106.3" x2="451.75" y2="1109.3" stroke="#000" stroke-width="1.9" />
<line x1="571" y1="1106.3" x2="571" y2="1112.3" stroke="#000" stroke-width="1.9" />
<text x="571" y="1135" font-size="24.6" fill="#000" text-anchor="middle" font-weight="bold" >12:00</text>
<line x1="690.25" y1="1106.3" x2="690.25" y2="1109.3" stroke="#000" stroke-width="1.9" />
<line x1="809.5" y1="1106.3" x2="809.5" y2="1112.3" stroke="#000" stroke-width="1.9" />
<text x="809.5" y="1135" font-size="24.6" fill="#000" text-anchor="middle" font-weight="bold" >12:30</text>
<line x1="928.75" y1="1106.3" x2="928.75" y2="1109.3" stroke="#000" stroke-width="1.9" />
<line x1="1048" y1="1106.3" x2="1048" y2="1112.3" stroke="#000" stroke-width="1.9" />
<text x="1048" y="1135" font-size="24.6" fill="#000" text-anchor="middle" font-weight="bold" >13:00</text>
<text x="1055" y="1114.6" font-size="24.6" fill="#FF7F0E" text-anchor="start" font-weight="bold" >0</text>
<line x1="1045" y1="1075.9" x2="1048" y2="1075.9" stroke="#000" stroke-width="1.9" />
<line x1="1042" y1="1045.5" x2="1048" y2="1045.5" stroke="#000" stroke-width="1.9" />
<text x="1055" y="1053.8" font-size="24.6" fill="#FF7F0E" text-anchor="start" font-weight="bold" >200</text>
<line x1="1045" y1="1015.1" x2="1048" y2="1015.1" stroke="#000" stroke-width="1.9" />
<line x1="1042" y1="984.7" x2="1048" y2="984.7" stroke="#000" stroke-width="1.9" />
<text x="1055" y="993" font-size="24.6" fill="#FF7F0E" text-anchor="start" font-weight="bold" >400</text>
<line x1="1045" y1="954.3" x2="1048" y2="954.3" stroke="#000" stroke-width="1.9" />
<line x1="1042" y1="923.9" x2="1048" y2="923.9" stroke="#000" stroke-width="1.9" />
<text x="1055" y="932.2" font-size="24.6" fill="#FF7F0E" text-anchor="start" font-weight="bold" >600</text>
<line x1="1045" y1="893.5" x2="1048" y2="893.5" stroke="#000" stroke-width="1.9" />
<line x1="1042" y1="863.1" x2="1048" y2="863.1" stroke="#000" stroke-width="1.9" />
<text x="1055" y="871.4" font-size="24.6" fill="#FF7F0E" text-anchor="start" font-weight="bold" >800</text>
<line x1="1045" y1="832.7" x2="1048" y2="832.7" stroke="#000" stroke-width="1.9" />
<line x1="179.5" y1="999" x2="210.5" y2="999" stroke="#000" stroke-width="3" />
<rect x="190.5" y="994.5" width="9" height="9" fill="#000" />
<text x="224.5" y="1007.2" font-size="24.2" fill="#000" text-anchor="start" font-weight="bold" >Uncovered</text>
<line x1="179.5" y1="1030" x2="210.5" y2="1030" stroke="#f00" stroke-width="3" />
<circle cx="195" cy="1030" r="5.3" fill="#f00"/>
<text x="224.5" y="1038.2" font-size="24.2" fill="#000" text-anchor="start" font-weight="bold" >Dual-selective</text>
<line x1="179.5" y1="1061.6" x2="210.5" y2="1061.6" stroke="#00f" stroke-width="3" />
<path d="M195,1054.6 l6,10.4 h-12z" fill="#00f"/>
<text x="224.5" y="1069.8" font-size="24.2" fill="#000" text-anchor="start" font-weight="bold" >White paint</text>
<line x1="179.5" y1="1092.5" x2="210.5" y2="1092.5" stroke="#808080" stroke-width="3" />
<path d="M195,1099.9 l-6.6,-11.4 h13.2z" fill="#808080"/>
<text x="224.5" y="1100.7" font-size="24.2" fill="#000" text-anchor="start" font-weight="bold" >Ambient</text>
<text x="571" y="1173.5" font-size="28" fill="#000" text-anchor="middle" font-weight="bold" >Time of day</text>
<text transform="translate(38,1064.5) rotate(-90)" font-size="28.5" font-weight="bold">Temperature (°C)</text>
<text transform="translate(1126.8,1121.5) rotate(-90)" font-size="28" font-weight="bold" fill="#FF7F0E">Solar irradiation (W m<tspan dy="-12" font-size="19">−2</tspan><tspan dy="12">)</tspan></text>
<text x="18" y="823" font-size="31" fill="#000" text-anchor="start" font-weight="bold" >e</text>
<defs><clipPath id="iclip"><rect x="518.3" y="957" width="422.6" height="143"/></clipPath><pattern id="cells" width="3" height="40" patternUnits="userSpaceOnUse"><rect width="3" height="40" fill="#262938"/><rect width="0.7" height="40" fill="#3a3d4e"/></pattern><linearGradient id="foilf" x1="0" y1="0" x2="0" y2="1"><stop offset="0" stop-color="#4a4e56"/><stop offset="0.45" stop-color="#6f737c"/><stop offset="0.7" stop-color="#c2c5cc"/><stop offset="1" stop-color="#d4d7de"/></linearGradient><linearGradient id="foilt" x1="0" y1="0" x2="1" y2="0"><stop offset="0" stop-color="#8aa6c8"/><stop offset="0.5" stop-color="#6f93bf"/><stop offset="1" stop-color="#87a3c9"/></linearGradient></defs>
<g clip-path="url(#iclip)">
<rect x="518" y="957" width="423" height="144" fill="#26262c" />
<polygon points="518.0,957.0 622.0,957.0 607.7,996.8 560.0,996.8 546.0,1017.0 546.0,1058.0 533.0,1066.0 518.0,1084.5" fill="url(#cells)" />
<line x1="559" y1="957" x2="518" y2="1037" stroke="#c8c8d0" stroke-width="1.2" />
<line x1="590" y1="957" x2="540" y2="1050" stroke="#c8c8d0" stroke-width="1.2" />
<line x1="518" y1="971" x2="614" y2="971" stroke="#b8b8c2" stroke-width="1" opacity="0.8"/>
<line x1="518" y1="982.5" x2="614" y2="982.5" stroke="#b8b8c2" stroke-width="1" opacity="0.8"/>
<line x1="518" y1="994" x2="614" y2="994" stroke="#b8b8c2" stroke-width="1" opacity="0.8"/>
<line x1="518" y1="1006" x2="614" y2="1006" stroke="#b8b8c2" stroke-width="1" opacity="0.8"/>
<line x1="518" y1="1019" x2="614" y2="1019" stroke="#b8b8c2" stroke-width="1" opacity="0.8"/>
<line x1="518" y1="1032" x2="614" y2="1032" stroke="#b8b8c2" stroke-width="1" opacity="0.8"/>
<line x1="518" y1="1047" x2="614" y2="1047" stroke="#b8b8c2" stroke-width="1" opacity="0.8"/>
<line x1="518" y1="1062" x2="614" y2="1062" stroke="#b8b8c2" stroke-width="1" opacity="0.8"/>
<polygon points="617.5,957.0 623.5,957.0 609.0,996.8 603.0,996.8" fill="#b9b9bd" />
<rect x="621" y="957" width="91" height="22" fill="#5e4236" />
<rect x="630" y="959" width="30" height="10" fill="#8a6a58" opacity="0.45" filter="url(#bl2)"/>
<rect x="676" y="962" width="26" height="12" fill="#84624e" opacity="0.45" filter="url(#bl2)"/>
<rect x="706" y="957" width="14" height="6" fill="#d8d6d0" />
<polygon points="614.0,978.0 722.0,974.0 722.0,1013.0 600.0,1013.0" fill="#2a2b30" />
<polygon points="690.0,968.0 722.0,966.0 722.0,1000.0 660.0,1008.0" fill="#222327" />
<rect x="640" y="957" width="4" height="52" fill="#141416" />
<rect x="665.5" y="961" width="3.5" height="36" fill="#141416" />
<line x1="655" y1="957" x2="666" y2="982" stroke="#18181a" stroke-width="2.5" />
<line x1="668" y1="963" x2="704" y2="962" stroke="#2c2c30" stroke-width="3" />
<line x1="636" y1="1000" x2="668" y2="975" stroke="#55565c" stroke-width="3" />
<rect x="720.5" y="957" width="4.5" height="43" fill="#c4c6cc" />
<polygon points="725.0,957.0 941.0,957.0 941.0,1046.0 725.0,1020.0" fill="url(#cells)" />
<line x1="725" y1="958.8" x2="941" y2="959.8" stroke="#c9c9d2" stroke-width="1.3" />
<line x1="725" y1="974" x2="941" y2="975" stroke="#c9c9d2" stroke-width="1.3" />
<line x1="725" y1="990" x2="941" y2="991" stroke="#c9c9d2" stroke-width="1.3" />
<line x1="725" y1="1006.5" x2="941" y2="1007.5" stroke="#c9c9d2" stroke-width="1.3" />
<line x1="725" y1="1023.5" x2="941" y2="1024.5" stroke="#c9c9d2" stroke-width="1.3" />
<line x1="769" y1="957" x2="771.8" y2="1016" stroke="#c9c9d2" stroke-width="1.3" />
<line x1="812" y1="957" x2="818.6" y2="1016" stroke="#c9c9d2" stroke-width="1.3" />
<line x1="857" y1="957" x2="868" y2="1016" stroke="#c9c9d2" stroke-width="1.3" />
<line x1="901.7" y1="957" x2="933" y2="1043.6" stroke="#c9c9d2" stroke-width="1.3" />
<rect x="893" y="981" width="5" height="5" fill="#c8a860" />
<polygon points="911.0,1044.0 941.0,1044.0 941.0,1100.0 927.0,1076.0" fill="#101014" />
<polygon points="911.0,1043.5 941.0,1045.0 941.0,1049.0 911.0,1047.5" fill="#a9b6cb" />
<polygon points="518.0,1084.5 533.0,1066.0 545.0,1058.0 545.0,1017.0 812.0,1017.0 812.0,1042.0 909.0,1042.0 909.3,1057.0 941.0,1089.5 941.0,1101.0 518.0,1101.0" fill="#e9e9ef" />
<polygon points="632.0,1030.0 672.0,1022.0 676.0,1066.0 632.0,1076.0" fill="#c9cbde" filter="url(#bl2)" opacity="0.9"/>
<polygon points="760.0,1024.0 812.0,1028.0 812.0,1060.0 760.0,1064.0" fill="#dcdeea" filter="url(#bl2)" opacity="0.7"/>
<rect x="518" y="1093" width="423" height="8" fill="#cfcfd5" filter="url(#bl2)" opacity="0.8"/>
<polygon points="538.6,1016.8 560.6,997.4 634.0,999.3 621.7,1017.8" fill="#eeeeef" />
<polygon points="621.7,1017.8 634.0,999.3 638.3,1047.4 626.5,1072.0" fill="#d6d6dc" />
<polygon points="538.6,1016.8 621.7,1017.8 626.5,1072.0 548.0,1068.4" fill="#e4e4e2" />
<polygon points="670.0,1020.7 680.0,1000.6 754.5,1000.0 757.0,1018.5" fill="#f0f0f2" />
<polygon points="757.0,1018.5 754.5,1000.0 758.5,1010.0 758.0,1072.0" fill="#dcdce4" />
<polygon points="670.0,1020.7 757.0,1018.5 757.0,1074.0 674.0,1072.5" fill="#e8e6e8" />
<polygon points="810.0,1003.5 820.5,1026.4 818.6,1064.6 812.0,1057.0" fill="#d9dde6" />
<polygon points="820.5,1026.4 914.0,1023.5 909.3,1064.6 818.6,1064.6" fill="url(#foilf)" />
<polygon points="810.0,1003.5 893.0,1000.0 914.0,1023.5 820.5,1026.4" fill="url(#foilt)" />
<polygon points="820.5,1026.4 914.0,1023.5 914.0,1025.5 820.5,1028.6" fill="#e6eaf2" />
</g>
<text x="582.5" y="1064.6" font-size="27" fill="#000" text-anchor="middle" font-weight="bold" >White</text>
<text x="587" y="1091.3" font-size="27" fill="#000" text-anchor="middle" font-weight="bold" >paint</text>
<text x="710" y="1065" font-size="27" fill="#000" text-anchor="middle" font-weight="bold" >Dual-</text>
<text x="713" y="1091.3" font-size="27" fill="#000" text-anchor="middle" font-weight="bold" >selective</text>
<text x="856.7" y="1078.4" font-size="27.3" fill="#000" text-anchor="middle" font-weight="bold" >Uncovered</text>
</g>
</svg>
</body></html>
